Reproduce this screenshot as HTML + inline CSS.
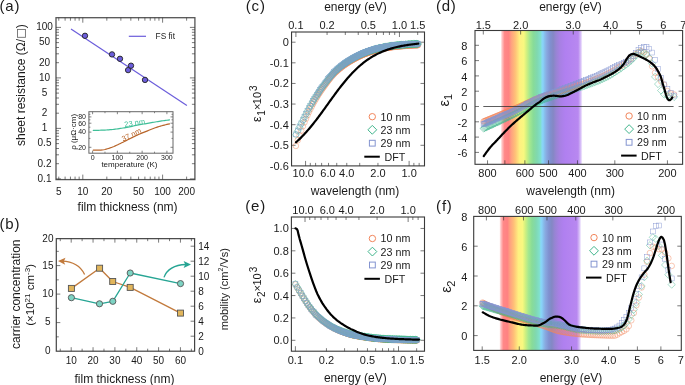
<!DOCTYPE html>
<html><head><meta charset="utf-8"><style>
html,body{margin:0;padding:0;background:#fff;overflow:hidden;}
svg{display:block;font-family:"Liberation Sans", sans-serif;will-change:transform;}
</style></head><body>
<svg xmlns="http://www.w3.org/2000/svg" width="685" height="385" viewBox="0 0 685 385">
<rect width="685" height="385" fill="#fff"/>
<defs><circle id="mc" r="2.8" fill="none" stroke="#f2865c" stroke-width="0.45"/><path id="md" d="M0,-3.6L3.6,0L0,3.6L-3.6,0Z" fill="none" stroke="#40b58c" stroke-width="0.45"/><rect id="ms" x="-2.45" y="-2.45" width="4.9" height="4.9" fill="none" stroke="#7ca3c8" stroke-width="0.45"/><rect id="mp" x="-2.45" y="-2.45" width="4.9" height="4.9" fill="none" stroke="#8494d0" stroke-width="0.45"/></defs>
<rect x="56" y="17.7" width="138.9" height="161.9" fill="none" stroke="#555" stroke-width="1.3"/>
<line x1="82.8" y1="179.6" x2="82.8" y2="174.6" stroke="#333" stroke-width="0.65" />
<line x1="82.8" y1="17.7" x2="82.8" y2="22.7" stroke="#333" stroke-width="0.65" />
<line x1="162.6" y1="179.6" x2="162.6" y2="174.6" stroke="#333" stroke-width="0.65" />
<line x1="162.6" y1="17.7" x2="162.6" y2="22.7" stroke="#333" stroke-width="0.65" />
<line x1="58.78" y1="179.6" x2="58.78" y2="176.6" stroke="#333" stroke-width="0.65" />
<line x1="58.78" y1="17.7" x2="58.78" y2="20.7" stroke="#333" stroke-width="0.65" />
<line x1="65.1" y1="179.6" x2="65.1" y2="176.6" stroke="#333" stroke-width="0.65" />
<line x1="65.1" y1="17.7" x2="65.1" y2="20.7" stroke="#333" stroke-width="0.65" />
<line x1="70.44" y1="179.6" x2="70.44" y2="176.6" stroke="#333" stroke-width="0.65" />
<line x1="70.44" y1="17.7" x2="70.44" y2="20.7" stroke="#333" stroke-width="0.65" />
<line x1="75.07" y1="179.6" x2="75.07" y2="176.6" stroke="#333" stroke-width="0.65" />
<line x1="75.07" y1="17.7" x2="75.07" y2="20.7" stroke="#333" stroke-width="0.65" />
<line x1="79.15" y1="179.6" x2="79.15" y2="176.6" stroke="#333" stroke-width="0.65" />
<line x1="79.15" y1="17.7" x2="79.15" y2="20.7" stroke="#333" stroke-width="0.65" />
<line x1="106.82" y1="179.6" x2="106.82" y2="176.6" stroke="#333" stroke-width="0.65" />
<line x1="106.82" y1="17.7" x2="106.82" y2="20.7" stroke="#333" stroke-width="0.65" />
<line x1="120.87" y1="179.6" x2="120.87" y2="176.6" stroke="#333" stroke-width="0.65" />
<line x1="120.87" y1="17.7" x2="120.87" y2="20.7" stroke="#333" stroke-width="0.65" />
<line x1="130.84" y1="179.6" x2="130.84" y2="176.6" stroke="#333" stroke-width="0.65" />
<line x1="130.84" y1="17.7" x2="130.84" y2="20.7" stroke="#333" stroke-width="0.65" />
<line x1="138.58" y1="179.6" x2="138.58" y2="176.6" stroke="#333" stroke-width="0.65" />
<line x1="138.58" y1="17.7" x2="138.58" y2="20.7" stroke="#333" stroke-width="0.65" />
<line x1="144.9" y1="179.6" x2="144.9" y2="176.6" stroke="#333" stroke-width="0.65" />
<line x1="144.9" y1="17.7" x2="144.9" y2="20.7" stroke="#333" stroke-width="0.65" />
<line x1="150.24" y1="179.6" x2="150.24" y2="176.6" stroke="#333" stroke-width="0.65" />
<line x1="150.24" y1="17.7" x2="150.24" y2="20.7" stroke="#333" stroke-width="0.65" />
<line x1="154.87" y1="179.6" x2="154.87" y2="176.6" stroke="#333" stroke-width="0.65" />
<line x1="154.87" y1="17.7" x2="154.87" y2="20.7" stroke="#333" stroke-width="0.65" />
<line x1="158.95" y1="179.6" x2="158.95" y2="176.6" stroke="#333" stroke-width="0.65" />
<line x1="158.95" y1="17.7" x2="158.95" y2="20.7" stroke="#333" stroke-width="0.65" />
<line x1="186.62" y1="179.6" x2="186.62" y2="176.6" stroke="#333" stroke-width="0.65" />
<line x1="186.62" y1="17.7" x2="186.62" y2="20.7" stroke="#333" stroke-width="0.65" />
<line x1="56" y1="178.9" x2="61" y2="178.9" stroke="#333" stroke-width="0.65" />
<line x1="194.9" y1="178.9" x2="189.9" y2="178.9" stroke="#333" stroke-width="0.65" />
<line x1="56" y1="128.4" x2="61" y2="128.4" stroke="#333" stroke-width="0.65" />
<line x1="194.9" y1="128.4" x2="189.9" y2="128.4" stroke="#333" stroke-width="0.65" />
<line x1="56" y1="77.9" x2="61" y2="77.9" stroke="#333" stroke-width="0.65" />
<line x1="194.9" y1="77.9" x2="189.9" y2="77.9" stroke="#333" stroke-width="0.65" />
<line x1="56" y1="27.4" x2="61" y2="27.4" stroke="#333" stroke-width="0.65" />
<line x1="194.9" y1="27.4" x2="189.9" y2="27.4" stroke="#333" stroke-width="0.65" />
<line x1="56" y1="163.7" x2="59" y2="163.7" stroke="#333" stroke-width="0.65" />
<line x1="194.9" y1="163.7" x2="191.9" y2="163.7" stroke="#333" stroke-width="0.65" />
<line x1="56" y1="154.81" x2="59" y2="154.81" stroke="#333" stroke-width="0.65" />
<line x1="194.9" y1="154.81" x2="191.9" y2="154.81" stroke="#333" stroke-width="0.65" />
<line x1="56" y1="148.5" x2="59" y2="148.5" stroke="#333" stroke-width="0.65" />
<line x1="194.9" y1="148.5" x2="191.9" y2="148.5" stroke="#333" stroke-width="0.65" />
<line x1="56" y1="143.6" x2="59" y2="143.6" stroke="#333" stroke-width="0.65" />
<line x1="194.9" y1="143.6" x2="191.9" y2="143.6" stroke="#333" stroke-width="0.65" />
<line x1="56" y1="139.6" x2="59" y2="139.6" stroke="#333" stroke-width="0.65" />
<line x1="194.9" y1="139.6" x2="191.9" y2="139.6" stroke="#333" stroke-width="0.65" />
<line x1="56" y1="136.22" x2="59" y2="136.22" stroke="#333" stroke-width="0.65" />
<line x1="194.9" y1="136.22" x2="191.9" y2="136.22" stroke="#333" stroke-width="0.65" />
<line x1="56" y1="133.29" x2="59" y2="133.29" stroke="#333" stroke-width="0.65" />
<line x1="194.9" y1="133.29" x2="191.9" y2="133.29" stroke="#333" stroke-width="0.65" />
<line x1="56" y1="130.71" x2="59" y2="130.71" stroke="#333" stroke-width="0.65" />
<line x1="194.9" y1="130.71" x2="191.9" y2="130.71" stroke="#333" stroke-width="0.65" />
<line x1="56" y1="113.2" x2="59" y2="113.2" stroke="#333" stroke-width="0.65" />
<line x1="194.9" y1="113.2" x2="191.9" y2="113.2" stroke="#333" stroke-width="0.65" />
<line x1="56" y1="104.31" x2="59" y2="104.31" stroke="#333" stroke-width="0.65" />
<line x1="194.9" y1="104.31" x2="191.9" y2="104.31" stroke="#333" stroke-width="0.65" />
<line x1="56" y1="98" x2="59" y2="98" stroke="#333" stroke-width="0.65" />
<line x1="194.9" y1="98" x2="191.9" y2="98" stroke="#333" stroke-width="0.65" />
<line x1="56" y1="93.1" x2="59" y2="93.1" stroke="#333" stroke-width="0.65" />
<line x1="194.9" y1="93.1" x2="191.9" y2="93.1" stroke="#333" stroke-width="0.65" />
<line x1="56" y1="89.1" x2="59" y2="89.1" stroke="#333" stroke-width="0.65" />
<line x1="194.9" y1="89.1" x2="191.9" y2="89.1" stroke="#333" stroke-width="0.65" />
<line x1="56" y1="85.72" x2="59" y2="85.72" stroke="#333" stroke-width="0.65" />
<line x1="194.9" y1="85.72" x2="191.9" y2="85.72" stroke="#333" stroke-width="0.65" />
<line x1="56" y1="82.79" x2="59" y2="82.79" stroke="#333" stroke-width="0.65" />
<line x1="194.9" y1="82.79" x2="191.9" y2="82.79" stroke="#333" stroke-width="0.65" />
<line x1="56" y1="80.21" x2="59" y2="80.21" stroke="#333" stroke-width="0.65" />
<line x1="194.9" y1="80.21" x2="191.9" y2="80.21" stroke="#333" stroke-width="0.65" />
<line x1="56" y1="62.7" x2="59" y2="62.7" stroke="#333" stroke-width="0.65" />
<line x1="194.9" y1="62.7" x2="191.9" y2="62.7" stroke="#333" stroke-width="0.65" />
<line x1="56" y1="53.81" x2="59" y2="53.81" stroke="#333" stroke-width="0.65" />
<line x1="194.9" y1="53.81" x2="191.9" y2="53.81" stroke="#333" stroke-width="0.65" />
<line x1="56" y1="47.5" x2="59" y2="47.5" stroke="#333" stroke-width="0.65" />
<line x1="194.9" y1="47.5" x2="191.9" y2="47.5" stroke="#333" stroke-width="0.65" />
<line x1="56" y1="42.6" x2="59" y2="42.6" stroke="#333" stroke-width="0.65" />
<line x1="194.9" y1="42.6" x2="191.9" y2="42.6" stroke="#333" stroke-width="0.65" />
<line x1="56" y1="38.6" x2="59" y2="38.6" stroke="#333" stroke-width="0.65" />
<line x1="194.9" y1="38.6" x2="191.9" y2="38.6" stroke="#333" stroke-width="0.65" />
<line x1="56" y1="35.22" x2="59" y2="35.22" stroke="#333" stroke-width="0.65" />
<line x1="194.9" y1="35.22" x2="191.9" y2="35.22" stroke="#333" stroke-width="0.65" />
<line x1="56" y1="32.29" x2="59" y2="32.29" stroke="#333" stroke-width="0.65" />
<line x1="194.9" y1="32.29" x2="191.9" y2="32.29" stroke="#333" stroke-width="0.65" />
<line x1="56" y1="29.71" x2="59" y2="29.71" stroke="#333" stroke-width="0.65" />
<line x1="194.9" y1="29.71" x2="191.9" y2="29.71" stroke="#333" stroke-width="0.65" />
<text x="44.5" y="30.28" font-size="10" text-anchor="middle" fill="#1a1a1a" >100</text>
<text x="44.5" y="45.48" font-size="10" text-anchor="middle" fill="#1a1a1a" >50</text>
<text x="44.5" y="65.58" font-size="10" text-anchor="middle" fill="#1a1a1a" >20</text>
<text x="44.5" y="80.78" font-size="10" text-anchor="middle" fill="#1a1a1a" >10</text>
<text x="44.5" y="95.98" font-size="10" text-anchor="middle" fill="#1a1a1a" >5</text>
<text x="44.5" y="116.08" font-size="10" text-anchor="middle" fill="#1a1a1a" >2</text>
<text x="44.5" y="131.28" font-size="10" text-anchor="middle" fill="#1a1a1a" >1</text>
<text x="44.5" y="146.48" font-size="10" text-anchor="middle" fill="#1a1a1a" >0.5</text>
<text x="44.5" y="166.58" font-size="10" text-anchor="middle" fill="#1a1a1a" >0.2</text>
<text x="44.5" y="181.78" font-size="10" text-anchor="middle" fill="#1a1a1a" >0.1</text>
<text x="58.78" y="195.08" font-size="10" text-anchor="middle" fill="#1a1a1a" >5</text>
<text x="82.8" y="195.08" font-size="10" text-anchor="middle" fill="#1a1a1a" >10</text>
<text x="106.82" y="195.08" font-size="10" text-anchor="middle" fill="#1a1a1a" >20</text>
<text x="138.58" y="195.08" font-size="10" text-anchor="middle" fill="#1a1a1a" >50</text>
<text x="162.6" y="195.08" font-size="10" text-anchor="middle" fill="#1a1a1a" >100</text>
<text x="186.62" y="195.08" font-size="10" text-anchor="middle" fill="#1a1a1a" >200</text>
<text x="127.6" y="210.9" font-size="12" text-anchor="middle" fill="#1a1a1a" >film thickness (nm)</text>
<text x="24.8" y="146" font-size="12" text-anchor="start" fill="#1a1a1a" transform="rotate(-90 24.8 146)" >sheet resistance (Ω/</text>
<text x="24.8" y="28.15" font-size="12" text-anchor="start" fill="#1a1a1a" transform="rotate(-90 24.8 28.15)" >)</text>
<rect x="17.5" y="29.4" width="7.9" height="7.9" fill="none" stroke="#666" stroke-width="0.85"/>
<line x1="71" y1="28.9" x2="186.9" y2="105.4" stroke="#6b5ddb" stroke-width="1.2" />
<line x1="128.8" y1="36.3" x2="146" y2="36.3" stroke="#6b5ddb" stroke-width="1.2" />
<text x="155.6" y="39.2" font-size="8.3" text-anchor="start" fill="#1a1a1a" >FS fit</text>
<circle cx="85" cy="35.8" r="2.7" fill="#6b5ddb" stroke="#222" stroke-width="0.9"/>
<circle cx="112" cy="54.4" r="2.7" fill="#6b5ddb" stroke="#222" stroke-width="0.9"/>
<circle cx="120" cy="58.8" r="2.7" fill="#6b5ddb" stroke="#222" stroke-width="0.9"/>
<circle cx="128.1" cy="70.1" r="2.7" fill="#6b5ddb" stroke="#222" stroke-width="0.9"/>
<circle cx="131" cy="65.7" r="2.7" fill="#6b5ddb" stroke="#222" stroke-width="0.9"/>
<circle cx="145" cy="79.9" r="2.7" fill="#6b5ddb" stroke="#222" stroke-width="0.9"/>
<rect x="88.9" y="111.7" width="84.1" height="41.5" fill="#fff" stroke="#666" stroke-width="1"/>
<line x1="92.6" y1="153.2" x2="92.6" y2="150.7" stroke="#666" stroke-width="0.8" />
<line x1="92.6" y1="111.7" x2="92.6" y2="114.2" stroke="#666" stroke-width="0.8" />
<line x1="117.37" y1="153.2" x2="117.37" y2="150.7" stroke="#666" stroke-width="0.8" />
<line x1="117.37" y1="111.7" x2="117.37" y2="114.2" stroke="#666" stroke-width="0.8" />
<line x1="142.13" y1="153.2" x2="142.13" y2="150.7" stroke="#666" stroke-width="0.8" />
<line x1="142.13" y1="111.7" x2="142.13" y2="114.2" stroke="#666" stroke-width="0.8" />
<line x1="166.9" y1="153.2" x2="166.9" y2="150.7" stroke="#666" stroke-width="0.8" />
<line x1="166.9" y1="111.7" x2="166.9" y2="114.2" stroke="#666" stroke-width="0.8" />
<line x1="104.98" y1="153.2" x2="104.98" y2="151.7" stroke="#666" stroke-width="0.8" />
<line x1="104.98" y1="111.7" x2="104.98" y2="113.2" stroke="#666" stroke-width="0.8" />
<line x1="129.75" y1="153.2" x2="129.75" y2="151.7" stroke="#666" stroke-width="0.8" />
<line x1="129.75" y1="111.7" x2="129.75" y2="113.2" stroke="#666" stroke-width="0.8" />
<line x1="154.52" y1="153.2" x2="154.52" y2="151.7" stroke="#666" stroke-width="0.8" />
<line x1="154.52" y1="111.7" x2="154.52" y2="113.2" stroke="#666" stroke-width="0.8" />
<line x1="88.9" y1="147.3" x2="91.4" y2="147.3" stroke="#666" stroke-width="0.8" />
<line x1="173" y1="147.3" x2="170.5" y2="147.3" stroke="#666" stroke-width="0.8" />
<line x1="88.9" y1="138.41" x2="90.4" y2="138.41" stroke="#666" stroke-width="0.8" />
<line x1="173" y1="138.41" x2="171.5" y2="138.41" stroke="#666" stroke-width="0.8" />
<line x1="88.9" y1="132.1" x2="91.4" y2="132.1" stroke="#666" stroke-width="0.8" />
<line x1="173" y1="132.1" x2="170.5" y2="132.1" stroke="#666" stroke-width="0.8" />
<line x1="88.9" y1="127.2" x2="90.4" y2="127.2" stroke="#666" stroke-width="0.8" />
<line x1="173" y1="127.2" x2="171.5" y2="127.2" stroke="#666" stroke-width="0.8" />
<line x1="88.9" y1="123.21" x2="91.4" y2="123.21" stroke="#666" stroke-width="0.8" />
<line x1="173" y1="123.21" x2="170.5" y2="123.21" stroke="#666" stroke-width="0.8" />
<line x1="88.9" y1="119.82" x2="90.4" y2="119.82" stroke="#666" stroke-width="0.8" />
<line x1="173" y1="119.82" x2="171.5" y2="119.82" stroke="#666" stroke-width="0.8" />
<line x1="88.9" y1="116.9" x2="91.4" y2="116.9" stroke="#666" stroke-width="0.8" />
<line x1="173" y1="116.9" x2="170.5" y2="116.9" stroke="#666" stroke-width="0.8" />
<line x1="88.9" y1="114.31" x2="90.4" y2="114.31" stroke="#666" stroke-width="0.8" />
<line x1="173" y1="114.31" x2="171.5" y2="114.31" stroke="#666" stroke-width="0.8" />
<text x="86" y="149.61" font-size="7" text-anchor="end" fill="#1a1a1a" >20</text>
<text x="86" y="134.4" font-size="7" text-anchor="end" fill="#1a1a1a" >40</text>
<text x="86" y="125.51" font-size="7" text-anchor="end" fill="#1a1a1a" >60</text>
<text x="86" y="119.2" font-size="7" text-anchor="end" fill="#1a1a1a" >80</text>
<text x="92.6" y="160.16" font-size="7" text-anchor="middle" fill="#1a1a1a" >0</text>
<text x="117.37" y="160.16" font-size="7" text-anchor="middle" fill="#1a1a1a" >100</text>
<text x="142.13" y="160.16" font-size="7" text-anchor="middle" fill="#1a1a1a" >200</text>
<text x="166.9" y="160.16" font-size="7" text-anchor="middle" fill="#1a1a1a" >300</text>
<text x="129.4" y="167" font-size="8" text-anchor="middle" fill="#1a1a1a" >temperature (K)</text>
<text x="76" y="131.85" font-size="8" text-anchor="middle" fill="#1a1a1a" transform="rotate(-90 76 131.85)" >ρ (μΩ·cm)</text>
<polyline points="93.3,130.4 94.59,130.39 95.88,130.36 97.17,130.33 98.47,130.3 99.76,130.25 101.05,130.21 102.34,130.16 103.63,130.11 104.92,130.05 106.22,129.98 107.51,129.9 108.8,129.81 110.09,129.71 111.38,129.61 112.67,129.49 113.96,129.36 115.26,129.2 116.55,129.03 117.84,128.84 119.13,128.64 120.42,128.44 121.71,128.23 123.01,128.02 124.3,127.8 125.59,127.57 126.88,127.33 128.17,127.08 129.46,126.83 130.75,126.57 132.05,126.29 133.34,125.99 134.63,125.69 135.92,125.4 137.21,125.12 138.5,124.86 139.79,124.62 141.09,124.41 142.38,124.21 143.67,124.01 144.96,123.82 146.25,123.62 147.54,123.41 148.84,123.18 150.13,122.95 151.42,122.7 152.71,122.46 154,122.22 155.29,121.99 156.58,121.77 157.88,121.56 159.17,121.36 160.46,121.16 161.75,120.96 163.04,120.77 164.33,120.59 165.63,120.41 166.92,120.23 168.21,120.06 169.5,119.9" fill="none" stroke="#3fbf98" stroke-width="1.2" stroke-linejoin="round" stroke-linecap="round" />
<polyline points="93.3,150.2 94.59,150.2 95.88,150.2 97.17,150.2 98.47,150.2 99.76,150.15 101.05,150.07 102.34,149.97 103.63,149.76 104.92,149.46 106.22,149.1 107.51,148.74 108.8,148.36 110.09,147.93 111.38,147.46 112.67,146.97 113.96,146.45 115.26,145.88 116.55,145.29 117.84,144.68 119.13,144.05 120.42,143.42 121.71,142.8 123.01,142.17 124.3,141.52 125.59,140.87 126.88,140.21 128.17,139.56 129.46,138.91 130.75,138.28 132.05,137.64 133.34,137 134.63,136.36 135.92,135.73 137.21,135.12 138.5,134.53 139.79,133.97 141.09,133.42 142.38,132.88 143.67,132.36 144.96,131.85 146.25,131.33 147.54,130.82 148.84,130.3 150.13,129.77 151.42,129.25 152.71,128.73 154,128.24 155.29,127.77 156.58,127.34 157.88,126.93 159.17,126.54 160.46,126.15 161.75,125.78 163.04,125.42 164.33,125.08 165.63,124.76 166.92,124.45 168.21,124.16 169.5,123.9" fill="none" stroke="#b8652a" stroke-width="1.2" stroke-linejoin="round" stroke-linecap="round" />
<text x="134.7" y="125.4" font-size="7.5" text-anchor="middle" fill="#3fbf98" transform="rotate(-9.5 134.7 122.8)" >23 nm</text>
<text x="131.5" y="137.2" font-size="7.5" text-anchor="middle" fill="#b8652a" transform="rotate(-26 131.5 134.6)" >37 nm</text>
<rect x="56.3" y="238.65" width="138.3" height="112.55" fill="none" stroke="#444" stroke-width="1.2"/>
<line x1="71.2" y1="351.2" x2="71.2" y2="347.2" stroke="#333" stroke-width="0.65" />
<line x1="71.2" y1="238.65" x2="71.2" y2="242.65" stroke="#333" stroke-width="0.65" />
<line x1="93.05" y1="351.2" x2="93.05" y2="347.2" stroke="#333" stroke-width="0.65" />
<line x1="93.05" y1="238.65" x2="93.05" y2="242.65" stroke="#333" stroke-width="0.65" />
<line x1="114.9" y1="351.2" x2="114.9" y2="347.2" stroke="#333" stroke-width="0.65" />
<line x1="114.9" y1="238.65" x2="114.9" y2="242.65" stroke="#333" stroke-width="0.65" />
<line x1="136.75" y1="351.2" x2="136.75" y2="347.2" stroke="#333" stroke-width="0.65" />
<line x1="136.75" y1="238.65" x2="136.75" y2="242.65" stroke="#333" stroke-width="0.65" />
<line x1="158.6" y1="351.2" x2="158.6" y2="347.2" stroke="#333" stroke-width="0.65" />
<line x1="158.6" y1="238.65" x2="158.6" y2="242.65" stroke="#333" stroke-width="0.65" />
<line x1="180.45" y1="351.2" x2="180.45" y2="347.2" stroke="#333" stroke-width="0.65" />
<line x1="180.45" y1="238.65" x2="180.45" y2="242.65" stroke="#333" stroke-width="0.65" />
<line x1="60.28" y1="351.2" x2="60.28" y2="348.7" stroke="#333" stroke-width="0.65" />
<line x1="60.28" y1="238.65" x2="60.28" y2="241.15" stroke="#333" stroke-width="0.65" />
<line x1="82.12" y1="351.2" x2="82.12" y2="348.7" stroke="#333" stroke-width="0.65" />
<line x1="82.12" y1="238.65" x2="82.12" y2="241.15" stroke="#333" stroke-width="0.65" />
<line x1="103.97" y1="351.2" x2="103.97" y2="348.7" stroke="#333" stroke-width="0.65" />
<line x1="103.97" y1="238.65" x2="103.97" y2="241.15" stroke="#333" stroke-width="0.65" />
<line x1="125.83" y1="351.2" x2="125.83" y2="348.7" stroke="#333" stroke-width="0.65" />
<line x1="125.83" y1="238.65" x2="125.83" y2="241.15" stroke="#333" stroke-width="0.65" />
<line x1="147.68" y1="351.2" x2="147.68" y2="348.7" stroke="#333" stroke-width="0.65" />
<line x1="147.68" y1="238.65" x2="147.68" y2="241.15" stroke="#333" stroke-width="0.65" />
<line x1="169.53" y1="351.2" x2="169.53" y2="348.7" stroke="#333" stroke-width="0.65" />
<line x1="169.53" y1="238.65" x2="169.53" y2="241.15" stroke="#333" stroke-width="0.65" />
<line x1="191.38" y1="351.2" x2="191.38" y2="348.7" stroke="#333" stroke-width="0.65" />
<line x1="191.38" y1="238.65" x2="191.38" y2="241.15" stroke="#333" stroke-width="0.65" />
<line x1="56.3" y1="322.6" x2="60.3" y2="322.6" stroke="#333" stroke-width="0.65" />
<line x1="56.3" y1="294.1" x2="60.3" y2="294.1" stroke="#333" stroke-width="0.65" />
<line x1="56.3" y1="265.6" x2="60.3" y2="265.6" stroke="#333" stroke-width="0.65" />
<line x1="56.3" y1="336.85" x2="58.8" y2="336.85" stroke="#333" stroke-width="0.65" />
<line x1="56.3" y1="308.35" x2="58.8" y2="308.35" stroke="#333" stroke-width="0.65" />
<line x1="56.3" y1="279.85" x2="58.8" y2="279.85" stroke="#333" stroke-width="0.65" />
<line x1="56.3" y1="251.35" x2="58.8" y2="251.35" stroke="#333" stroke-width="0.65" />
<line x1="194.6" y1="336.2" x2="190.6" y2="336.2" stroke="#333" stroke-width="0.65" />
<line x1="194.6" y1="321.2" x2="190.6" y2="321.2" stroke="#333" stroke-width="0.65" />
<line x1="194.6" y1="306.2" x2="190.6" y2="306.2" stroke="#333" stroke-width="0.65" />
<line x1="194.6" y1="291.2" x2="190.6" y2="291.2" stroke="#333" stroke-width="0.65" />
<line x1="194.6" y1="276.2" x2="190.6" y2="276.2" stroke="#333" stroke-width="0.65" />
<line x1="194.6" y1="261.2" x2="190.6" y2="261.2" stroke="#333" stroke-width="0.65" />
<line x1="194.6" y1="246.2" x2="190.6" y2="246.2" stroke="#333" stroke-width="0.65" />
<text x="47.9" y="354.28" font-size="10" text-anchor="middle" fill="#1a1a1a" >0</text>
<text x="47.9" y="325.48" font-size="10" text-anchor="middle" fill="#1a1a1a" >5</text>
<text x="47.9" y="296.93" font-size="10" text-anchor="middle" fill="#1a1a1a" >10</text>
<text x="47.9" y="268.68" font-size="10" text-anchor="middle" fill="#1a1a1a" >15</text>
<text x="47.9" y="241.63" font-size="10" text-anchor="middle" fill="#1a1a1a" >20</text>
<text x="198.3" y="354.68" font-size="10" text-anchor="start" fill="#1a1a1a" >0</text>
<text x="198.3" y="339.68" font-size="10" text-anchor="start" fill="#1a1a1a" >2</text>
<text x="198.3" y="324.68" font-size="10" text-anchor="start" fill="#1a1a1a" >4</text>
<text x="198.3" y="309.68" font-size="10" text-anchor="start" fill="#1a1a1a" >6</text>
<text x="198.3" y="294.68" font-size="10" text-anchor="start" fill="#1a1a1a" >8</text>
<text x="198.3" y="279.68" font-size="10" text-anchor="start" fill="#1a1a1a" >10</text>
<text x="198.3" y="264.68" font-size="10" text-anchor="start" fill="#1a1a1a" >12</text>
<text x="198.3" y="249.68" font-size="10" text-anchor="start" fill="#1a1a1a" >14</text>
<text x="71.2" y="363.88" font-size="10" text-anchor="middle" fill="#1a1a1a" >10</text>
<text x="93.05" y="363.88" font-size="10" text-anchor="middle" fill="#1a1a1a" >20</text>
<text x="114.9" y="363.88" font-size="10" text-anchor="middle" fill="#1a1a1a" >30</text>
<text x="136.75" y="363.88" font-size="10" text-anchor="middle" fill="#1a1a1a" >40</text>
<text x="158.6" y="363.88" font-size="10" text-anchor="middle" fill="#1a1a1a" >50</text>
<text x="180.45" y="363.88" font-size="10" text-anchor="middle" fill="#1a1a1a" >60</text>
<text x="124.5" y="382.6" font-size="12" text-anchor="middle" fill="#1a1a1a" >film thickness (nm)</text>
<text x="20.5" y="294.2" font-size="12" text-anchor="middle" fill="#1a1a1a" transform="rotate(-90 20.5 294.2)" >carrier concentration</text>
<text x="34.4" y="294.85" font-size="11.5" text-anchor="middle" fill="#1a1a1a" transform="rotate(-90 34.4 294.85)" >(×10<tspan font-size="8" dy="-4.5">21</tspan><tspan dy="4.5"> cm</tspan><tspan font-size="8" dy="-4.5">-3</tspan><tspan dy="4.5">)</tspan></text>
<text x="227.6" y="289.2" font-size="11" text-anchor="middle" fill="#1a1a1a" transform="rotate(-90 227.6 289.2)" >mobility (cm<tspan font-size="7" dy="-4.2">2</tspan><tspan dy="4.2">/Vs)</tspan></text>
<polyline points="71.4,288.4 99.6,268.2 112.7,281.5 130.2,287.4 180.5,313.1" fill="none" stroke="#c27a3c" stroke-width="1.3" stroke-linejoin="round" stroke-linecap="round" />
<polyline points="71.4,297.7 99.5,303.8 112.8,301.3 130.2,273 180.5,283.6" fill="none" stroke="#27a594" stroke-width="1.3" stroke-linejoin="round" stroke-linecap="round" />
<rect x="68.4" y="285.4" width="6" height="6" fill="#e1b55b" stroke="#555" stroke-width="0.9"/>
<rect x="96.6" y="265.2" width="6" height="6" fill="#e1b55b" stroke="#555" stroke-width="0.9"/>
<rect x="109.7" y="278.5" width="6" height="6" fill="#e1b55b" stroke="#555" stroke-width="0.9"/>
<rect x="127.2" y="284.4" width="6" height="6" fill="#e1b55b" stroke="#555" stroke-width="0.9"/>
<rect x="177.5" y="310.1" width="6" height="6" fill="#e1b55b" stroke="#555" stroke-width="0.9"/>
<circle cx="71.4" cy="297.7" r="3.1" fill="#7dd3c3" stroke="#555" stroke-width="0.9"/>
<circle cx="99.5" cy="303.8" r="3.1" fill="#7dd3c3" stroke="#555" stroke-width="0.9"/>
<circle cx="112.8" cy="301.3" r="3.1" fill="#7dd3c3" stroke="#555" stroke-width="0.9"/>
<circle cx="130.2" cy="273" r="3.1" fill="#7dd3c3" stroke="#555" stroke-width="0.9"/>
<circle cx="180.5" cy="283.6" r="3.1" fill="#7dd3c3" stroke="#555" stroke-width="0.9"/>
<path d="M84.6,274.5 C80,265 72,261.5 62,261.2" fill="none" stroke="#c27a3c" stroke-width="1.3"/>
<path d="M58,261.1 L65.5,257.8 L63.8,261.4 L65.2,264.8 Z" fill="#c27a3c"/>
<path d="M164,277.4 C167,269 174,265 186,264.5" fill="none" stroke="#27a594" stroke-width="1.3"/>
<path d="M191,264.4 L183.6,261.1 L185.2,264.6 L183.6,268 Z" fill="#27a594"/>
<rect x="291.55" y="32" width="132.95" height="133.9" fill="none" stroke="#3a3a3a" stroke-width="1.1"/>
<line x1="295.9" y1="32" x2="295.9" y2="37" stroke="#333" stroke-width="0.65" />
<line x1="399.45" y1="32" x2="399.45" y2="37" stroke="#333" stroke-width="0.65" />
<line x1="327.07" y1="32" x2="327.07" y2="35" stroke="#333" stroke-width="0.65" />
<line x1="345.31" y1="32" x2="345.31" y2="35" stroke="#333" stroke-width="0.65" />
<line x1="358.24" y1="32" x2="358.24" y2="35" stroke="#333" stroke-width="0.65" />
<line x1="368.28" y1="32" x2="368.28" y2="35" stroke="#333" stroke-width="0.65" />
<line x1="376.48" y1="32" x2="376.48" y2="35" stroke="#333" stroke-width="0.65" />
<line x1="383.41" y1="32" x2="383.41" y2="35" stroke="#333" stroke-width="0.65" />
<line x1="389.41" y1="32" x2="389.41" y2="35" stroke="#333" stroke-width="0.65" />
<line x1="394.71" y1="32" x2="394.71" y2="35" stroke="#333" stroke-width="0.65" />
<line x1="417.68" y1="32" x2="417.68" y2="35" stroke="#333" stroke-width="0.65" />
<line x1="305.57" y1="165.9" x2="305.57" y2="160.9" stroke="#333" stroke-width="0.65" />
<line x1="409.12" y1="165.9" x2="409.12" y2="160.9" stroke="#333" stroke-width="0.65" />
<line x1="310.31" y1="165.9" x2="310.31" y2="162.9" stroke="#333" stroke-width="0.65" />
<line x1="315.6" y1="165.9" x2="315.6" y2="162.9" stroke="#333" stroke-width="0.65" />
<line x1="321.61" y1="165.9" x2="321.61" y2="162.9" stroke="#333" stroke-width="0.65" />
<line x1="328.54" y1="165.9" x2="328.54" y2="162.9" stroke="#333" stroke-width="0.65" />
<line x1="336.74" y1="165.9" x2="336.74" y2="162.9" stroke="#333" stroke-width="0.65" />
<line x1="346.77" y1="165.9" x2="346.77" y2="162.9" stroke="#333" stroke-width="0.65" />
<line x1="359.71" y1="165.9" x2="359.71" y2="162.9" stroke="#333" stroke-width="0.65" />
<line x1="377.95" y1="165.9" x2="377.95" y2="162.9" stroke="#333" stroke-width="0.65" />
<line x1="413.86" y1="165.9" x2="413.86" y2="162.9" stroke="#333" stroke-width="0.65" />
<line x1="419.15" y1="165.9" x2="419.15" y2="162.9" stroke="#333" stroke-width="0.65" />
<line x1="291.55" y1="42.2" x2="295.55" y2="42.2" stroke="#333" stroke-width="0.65" />
<line x1="424.5" y1="42.2" x2="420.5" y2="42.2" stroke="#333" stroke-width="0.65" />
<line x1="291.55" y1="62.82" x2="295.55" y2="62.82" stroke="#333" stroke-width="0.65" />
<line x1="424.5" y1="62.82" x2="420.5" y2="62.82" stroke="#333" stroke-width="0.65" />
<line x1="291.55" y1="83.44" x2="295.55" y2="83.44" stroke="#333" stroke-width="0.65" />
<line x1="424.5" y1="83.44" x2="420.5" y2="83.44" stroke="#333" stroke-width="0.65" />
<line x1="291.55" y1="104.06" x2="295.55" y2="104.06" stroke="#333" stroke-width="0.65" />
<line x1="424.5" y1="104.06" x2="420.5" y2="104.06" stroke="#333" stroke-width="0.65" />
<line x1="291.55" y1="124.68" x2="295.55" y2="124.68" stroke="#333" stroke-width="0.65" />
<line x1="424.5" y1="124.68" x2="420.5" y2="124.68" stroke="#333" stroke-width="0.65" />
<line x1="291.55" y1="145.3" x2="295.55" y2="145.3" stroke="#333" stroke-width="0.65" />
<line x1="424.5" y1="145.3" x2="420.5" y2="145.3" stroke="#333" stroke-width="0.65" />
<text x="288.8" y="46.14" font-size="11" text-anchor="end" fill="#1a1a1a" >0</text>
<text x="288.8" y="66.76" font-size="11" text-anchor="end" fill="#1a1a1a" >-0.1</text>
<text x="288.8" y="87.38" font-size="11" text-anchor="end" fill="#1a1a1a" >-0.2</text>
<text x="288.8" y="108" font-size="11" text-anchor="end" fill="#1a1a1a" >-0.3</text>
<text x="288.8" y="128.62" font-size="11" text-anchor="end" fill="#1a1a1a" >-0.4</text>
<text x="288.8" y="149.24" font-size="11" text-anchor="end" fill="#1a1a1a" >-0.5</text>
<text x="288.8" y="169.86" font-size="11" text-anchor="end" fill="#1a1a1a" >-0.6</text>
<text x="295.9" y="29.04" font-size="11" text-anchor="middle" fill="#1a1a1a" >0.1</text>
<text x="327.07" y="29.04" font-size="11" text-anchor="middle" fill="#1a1a1a" >0.2</text>
<text x="368.28" y="29.04" font-size="11" text-anchor="middle" fill="#1a1a1a" >0.5</text>
<text x="399.45" y="29.04" font-size="11" text-anchor="middle" fill="#1a1a1a" >1.0</text>
<text x="417.68" y="29.04" font-size="11" text-anchor="middle" fill="#1a1a1a" >1.5</text>
<text x="303.27" y="177.34" font-size="11" text-anchor="middle" fill="#1a1a1a" >10.0</text>
<text x="327.94" y="177.34" font-size="11" text-anchor="middle" fill="#1a1a1a" >6.0</text>
<text x="346.77" y="177.34" font-size="11" text-anchor="middle" fill="#1a1a1a" >4.0</text>
<text x="377.95" y="177.34" font-size="11" text-anchor="middle" fill="#1a1a1a" >2.0</text>
<text x="409.12" y="177.34" font-size="11" text-anchor="middle" fill="#1a1a1a" >1.0</text>
<text x="355.5" y="11.2" font-size="12" text-anchor="middle" fill="#1a1a1a" >energy (eV)</text>
<text x="355" y="194.6" font-size="12" text-anchor="middle" fill="#1a1a1a" >wavelength (nm)</text>
<g transform="translate(260.8 121.9) rotate(-90)" fill="#1a1a1a">
<text x="0" y="0" font-size="12.5">ε</text>
<text x="6.2" y="4.1" font-size="10">1</text>
<text x="11.9" y="0" font-size="11">×</text>
<text x="17.7" y="0" font-size="11">10</text>
<text x="31" y="-4" font-size="10">3</text>
</g>
<use href="#mc" x="295.9" y="145.92"/>
<use href="#mc" x="297.75" y="140.27"/>
<use href="#mc" x="299.53" y="135.19"/>
<use href="#mc" x="301.24" y="130.58"/>
<use href="#mc" x="302.88" y="126.35"/>
<use href="#mc" x="304.47" y="122.39"/>
<use href="#mc" x="306.01" y="118.69"/>
<use href="#mc" x="307.49" y="115.26"/>
<use href="#mc" x="308.93" y="112.12"/>
<use href="#mc" x="310.32" y="109.25"/>
<use href="#mc" x="311.67" y="106.58"/>
<use href="#mc" x="312.98" y="104.1"/>
<use href="#mc" x="314.25" y="101.79"/>
<use href="#mc" x="315.49" y="99.64"/>
<use href="#mc" x="316.7" y="97.62"/>
<use href="#mc" x="317.87" y="95.71"/>
<use href="#mc" x="319.02" y="93.91"/>
<use href="#mc" x="320.13" y="92.2"/>
<use href="#mc" x="321.22" y="90.58"/>
<use href="#mc" x="322.28" y="89.04"/>
<use href="#mc" x="323.32" y="87.58"/>
<use href="#mc" x="324.34" y="86.18"/>
<use href="#mc" x="325.33" y="84.82"/>
<use href="#mc" x="326.3" y="83.5"/>
<use href="#mc" x="327.25" y="82.21"/>
<use href="#mc" x="328.18" y="80.97"/>
<use href="#mc" x="329.09" y="79.77"/>
<use href="#mc" x="329.99" y="78.62"/>
<use href="#mc" x="330.86" y="77.53"/>
<use href="#mc" x="331.72" y="76.49"/>
<use href="#mc" x="332.57" y="75.5"/>
<use href="#mc" x="333.4" y="74.57"/>
<use href="#mc" x="334.21" y="73.7"/>
<use href="#mc" x="335.01" y="72.89"/>
<use href="#mc" x="335.79" y="72.14"/>
<use href="#mc" x="336.56" y="71.43"/>
<use href="#mc" x="337.32" y="70.75"/>
<use href="#mc" x="338.07" y="70.09"/>
<use href="#mc" x="338.8" y="69.46"/>
<use href="#mc" x="339.52" y="68.86"/>
<use href="#mc" x="340.23" y="68.27"/>
<use href="#mc" x="340.93" y="67.71"/>
<use href="#mc" x="341.62" y="67.17"/>
<use href="#mc" x="342.3" y="66.65"/>
<use href="#mc" x="342.97" y="66.15"/>
<use href="#mc" x="343.63" y="65.66"/>
<use href="#mc" x="344.27" y="65.2"/>
<use href="#mc" x="344.91" y="64.74"/>
<use href="#mc" x="345.55" y="64.31"/>
<use href="#mc" x="346.17" y="63.88"/>
<use href="#mc" x="346.78" y="63.47"/>
<use href="#mc" x="347.39" y="63.07"/>
<use href="#mc" x="347.98" y="62.69"/>
<use href="#mc" x="348.57" y="62.31"/>
<use href="#mc" x="349.15" y="61.95"/>
<use href="#mc" x="349.73" y="61.6"/>
<use href="#mc" x="350.3" y="61.26"/>
<use href="#mc" x="350.86" y="60.92"/>
<use href="#mc" x="351.41" y="60.6"/>
<use href="#mc" x="351.95" y="60.28"/>
<use href="#mc" x="352.49" y="59.98"/>
<use href="#mc" x="353.03" y="59.67"/>
<use href="#mc" x="353.56" y="59.38"/>
<use href="#mc" x="354.08" y="59.09"/>
<use href="#mc" x="354.59" y="58.81"/>
<use href="#mc" x="355.1" y="58.54"/>
<use href="#mc" x="355.6" y="58.27"/>
<use href="#mc" x="356.1" y="58"/>
<use href="#mc" x="356.59" y="57.75"/>
<use href="#mc" x="357.08" y="57.5"/>
<use href="#mc" x="357.56" y="57.25"/>
<use href="#mc" x="358.04" y="57.02"/>
<use href="#mc" x="358.51" y="56.78"/>
<use href="#mc" x="358.98" y="56.55"/>
<use href="#mc" x="359.44" y="56.33"/>
<use href="#mc" x="359.9" y="56.11"/>
<use href="#mc" x="360.35" y="55.9"/>
<use href="#mc" x="360.8" y="55.7"/>
<use href="#mc" x="361.24" y="55.49"/>
<use href="#mc" x="361.68" y="55.3"/>
<use href="#mc" x="362.12" y="55.1"/>
<use href="#mc" x="362.55" y="54.91"/>
<use href="#mc" x="362.98" y="54.73"/>
<use href="#mc" x="363.4" y="54.55"/>
<use href="#mc" x="363.82" y="54.37"/>
<use href="#mc" x="364.23" y="54.2"/>
<use href="#mc" x="364.65" y="54.04"/>
<use href="#mc" x="365.05" y="53.87"/>
<use href="#mc" x="365.46" y="53.71"/>
<use href="#mc" x="365.86" y="53.56"/>
<use href="#mc" x="366.25" y="53.41"/>
<use href="#mc" x="366.65" y="53.26"/>
<use href="#mc" x="367.04" y="53.12"/>
<use href="#mc" x="367.42" y="52.97"/>
<use href="#mc" x="367.81" y="52.83"/>
<use href="#mc" x="368.19" y="52.7"/>
<use href="#mc" x="368.57" y="52.56"/>
<use href="#mc" x="368.94" y="52.43"/>
<use href="#mc" x="369.31" y="52.3"/>
<use href="#mc" x="369.68" y="52.17"/>
<use href="#mc" x="370.04" y="52.04"/>
<use href="#mc" x="370.4" y="51.92"/>
<use href="#mc" x="370.76" y="51.8"/>
<use href="#mc" x="371.12" y="51.68"/>
<use href="#mc" x="371.48" y="51.56"/>
<use href="#mc" x="371.84" y="51.44"/>
<use href="#mc" x="372.2" y="51.32"/>
<use href="#mc" x="372.55" y="51.21"/>
<use href="#mc" x="372.91" y="51.09"/>
<use href="#mc" x="373.27" y="50.98"/>
<use href="#mc" x="373.63" y="50.87"/>
<use href="#mc" x="373.99" y="50.76"/>
<use href="#mc" x="374.35" y="50.65"/>
<use href="#mc" x="374.7" y="50.55"/>
<use href="#mc" x="375.06" y="50.44"/>
<use href="#mc" x="375.42" y="50.34"/>
<use href="#mc" x="375.78" y="50.24"/>
<use href="#mc" x="376.14" y="50.14"/>
<use href="#mc" x="376.5" y="50.04"/>
<use href="#mc" x="376.85" y="49.95"/>
<use href="#mc" x="377.21" y="49.86"/>
<use href="#mc" x="377.57" y="49.76"/>
<use href="#mc" x="377.93" y="49.68"/>
<use href="#mc" x="378.29" y="49.59"/>
<use href="#mc" x="378.65" y="49.5"/>
<use href="#mc" x="379" y="49.42"/>
<use href="#mc" x="379.36" y="49.34"/>
<use href="#mc" x="379.72" y="49.26"/>
<use href="#mc" x="380.08" y="49.18"/>
<use href="#mc" x="380.44" y="49.11"/>
<use href="#mc" x="380.8" y="49.03"/>
<use href="#mc" x="381.15" y="48.96"/>
<use href="#mc" x="381.51" y="48.89"/>
<use href="#mc" x="381.87" y="48.81"/>
<use href="#mc" x="382.23" y="48.74"/>
<use href="#mc" x="382.59" y="48.67"/>
<use href="#mc" x="382.95" y="48.6"/>
<use href="#mc" x="383.3" y="48.53"/>
<use href="#mc" x="383.66" y="48.46"/>
<use href="#mc" x="384.02" y="48.39"/>
<use href="#mc" x="384.38" y="48.32"/>
<use href="#mc" x="384.74" y="48.25"/>
<use href="#mc" x="385.1" y="48.19"/>
<use href="#mc" x="385.45" y="48.12"/>
<use href="#mc" x="385.81" y="48.06"/>
<use href="#mc" x="386.17" y="47.99"/>
<use href="#mc" x="386.53" y="47.93"/>
<use href="#mc" x="386.89" y="47.86"/>
<use href="#mc" x="387.25" y="47.8"/>
<use href="#mc" x="387.6" y="47.74"/>
<use href="#mc" x="387.96" y="47.68"/>
<use href="#mc" x="388.32" y="47.62"/>
<use href="#mc" x="388.68" y="47.56"/>
<use href="#mc" x="389.04" y="47.51"/>
<use href="#mc" x="389.4" y="47.45"/>
<use href="#mc" x="389.75" y="47.39"/>
<use href="#mc" x="390.11" y="47.34"/>
<use href="#mc" x="390.47" y="47.29"/>
<use href="#mc" x="390.83" y="47.23"/>
<use href="#mc" x="391.19" y="47.18"/>
<use href="#mc" x="391.55" y="47.13"/>
<use href="#mc" x="391.9" y="47.08"/>
<use href="#mc" x="392.26" y="47.03"/>
<use href="#mc" x="392.62" y="46.99"/>
<use href="#mc" x="392.98" y="46.94"/>
<use href="#mc" x="393.34" y="46.89"/>
<use href="#mc" x="393.7" y="46.85"/>
<use href="#mc" x="394.05" y="46.81"/>
<use href="#mc" x="394.41" y="46.77"/>
<use href="#mc" x="394.77" y="46.73"/>
<use href="#mc" x="395.13" y="46.69"/>
<use href="#mc" x="395.49" y="46.65"/>
<use href="#mc" x="395.85" y="46.61"/>
<use href="#mc" x="396.2" y="46.57"/>
<use href="#mc" x="396.56" y="46.54"/>
<use href="#mc" x="396.92" y="46.51"/>
<use href="#mc" x="397.28" y="46.47"/>
<use href="#mc" x="397.64" y="46.44"/>
<use href="#mc" x="398" y="46.41"/>
<use href="#mc" x="398.35" y="46.38"/>
<use href="#mc" x="398.71" y="46.35"/>
<use href="#mc" x="399.07" y="46.31"/>
<use href="#mc" x="399.43" y="46.28"/>
<use href="#mc" x="399.79" y="46.25"/>
<use href="#mc" x="400.15" y="46.22"/>
<use href="#mc" x="400.5" y="46.19"/>
<use href="#mc" x="400.86" y="46.16"/>
<use href="#mc" x="401.22" y="46.13"/>
<use href="#mc" x="401.58" y="46.09"/>
<use href="#mc" x="401.94" y="46.06"/>
<use href="#mc" x="402.3" y="46.03"/>
<use href="#mc" x="402.65" y="46"/>
<use href="#mc" x="403.01" y="45.97"/>
<use href="#mc" x="403.37" y="45.94"/>
<use href="#mc" x="403.73" y="45.91"/>
<use href="#mc" x="404.09" y="45.88"/>
<use href="#mc" x="404.45" y="45.86"/>
<use href="#mc" x="404.8" y="45.83"/>
<use href="#mc" x="405.16" y="45.8"/>
<use href="#mc" x="405.52" y="45.77"/>
<use href="#mc" x="405.88" y="45.74"/>
<use href="#mc" x="406.24" y="45.72"/>
<use href="#mc" x="406.6" y="45.69"/>
<use href="#mc" x="406.95" y="45.66"/>
<use href="#mc" x="407.31" y="45.64"/>
<use href="#mc" x="407.67" y="45.61"/>
<use href="#mc" x="408.03" y="45.59"/>
<use href="#mc" x="408.39" y="45.56"/>
<use href="#mc" x="408.75" y="45.54"/>
<use href="#mc" x="409.1" y="45.51"/>
<use href="#mc" x="409.46" y="45.49"/>
<use href="#mc" x="409.82" y="45.47"/>
<use href="#mc" x="410.18" y="45.45"/>
<use href="#mc" x="410.54" y="45.42"/>
<use href="#mc" x="410.9" y="45.4"/>
<use href="#mc" x="411.26" y="45.38"/>
<use href="#mc" x="411.61" y="45.36"/>
<use href="#mc" x="411.97" y="45.34"/>
<use href="#mc" x="412.33" y="45.33"/>
<use href="#mc" x="412.69" y="45.31"/>
<use href="#mc" x="413.05" y="45.29"/>
<use href="#mc" x="413.41" y="45.27"/>
<use href="#mc" x="413.76" y="45.26"/>
<use href="#mc" x="414.12" y="45.24"/>
<use href="#mc" x="414.48" y="45.23"/>
<use href="#mc" x="414.84" y="45.21"/>
<use href="#mc" x="415.2" y="45.2"/>
<use href="#mc" x="415.56" y="45.19"/>
<use href="#mc" x="415.91" y="45.18"/>
<use href="#mc" x="416.27" y="45.16"/>
<use href="#mc" x="416.63" y="45.15"/>
<use href="#mc" x="416.99" y="45.15"/>
<use href="#mc" x="417.35" y="45.14"/>
<use href="#mc" x="417.71" y="45.13"/>
<use href="#mc" x="418.06" y="45.12"/>
<use href="#md" x="295.9" y="134.68"/>
<use href="#md" x="297.75" y="130.89"/>
<use href="#md" x="299.53" y="127.28"/>
<use href="#md" x="301.24" y="123.83"/>
<use href="#md" x="302.88" y="120.53"/>
<use href="#md" x="304.47" y="117.32"/>
<use href="#md" x="306.01" y="114.23"/>
<use href="#md" x="307.49" y="111.29"/>
<use href="#md" x="308.93" y="108.55"/>
<use href="#md" x="310.32" y="106.02"/>
<use href="#md" x="311.67" y="103.64"/>
<use href="#md" x="312.98" y="101.4"/>
<use href="#md" x="314.25" y="99.29"/>
<use href="#md" x="315.49" y="97.3"/>
<use href="#md" x="316.7" y="95.42"/>
<use href="#md" x="317.87" y="93.64"/>
<use href="#md" x="319.02" y="91.94"/>
<use href="#md" x="320.13" y="90.32"/>
<use href="#md" x="321.22" y="88.78"/>
<use href="#md" x="322.28" y="87.31"/>
<use href="#md" x="323.32" y="85.9"/>
<use href="#md" x="324.34" y="84.56"/>
<use href="#md" x="325.33" y="83.24"/>
<use href="#md" x="326.3" y="81.95"/>
<use href="#md" x="327.25" y="80.7"/>
<use href="#md" x="328.18" y="79.49"/>
<use href="#md" x="329.09" y="78.32"/>
<use href="#md" x="329.99" y="77.2"/>
<use href="#md" x="330.86" y="76.12"/>
<use href="#md" x="331.72" y="75.1"/>
<use href="#md" x="332.57" y="74.13"/>
<use href="#md" x="333.4" y="73.22"/>
<use href="#md" x="334.21" y="72.36"/>
<use href="#md" x="335.01" y="71.56"/>
<use href="#md" x="335.79" y="70.82"/>
<use href="#md" x="336.56" y="70.12"/>
<use href="#md" x="337.32" y="69.45"/>
<use href="#md" x="338.07" y="68.8"/>
<use href="#md" x="338.8" y="68.18"/>
<use href="#md" x="339.52" y="67.58"/>
<use href="#md" x="340.23" y="67"/>
<use href="#md" x="340.93" y="66.45"/>
<use href="#md" x="341.62" y="65.91"/>
<use href="#md" x="342.3" y="65.39"/>
<use href="#md" x="342.97" y="64.9"/>
<use href="#md" x="343.63" y="64.41"/>
<use href="#md" x="344.27" y="63.95"/>
<use href="#md" x="344.91" y="63.5"/>
<use href="#md" x="345.55" y="63.06"/>
<use href="#md" x="346.17" y="62.64"/>
<use href="#md" x="346.78" y="62.24"/>
<use href="#md" x="347.39" y="61.84"/>
<use href="#md" x="347.98" y="61.46"/>
<use href="#md" x="348.57" y="61.09"/>
<use href="#md" x="349.15" y="60.72"/>
<use href="#md" x="349.73" y="60.37"/>
<use href="#md" x="350.3" y="60.03"/>
<use href="#md" x="350.86" y="59.7"/>
<use href="#md" x="351.41" y="59.38"/>
<use href="#md" x="351.95" y="59.06"/>
<use href="#md" x="352.49" y="58.76"/>
<use href="#md" x="353.03" y="58.46"/>
<use href="#md" x="353.56" y="58.16"/>
<use href="#md" x="354.08" y="57.88"/>
<use href="#md" x="354.59" y="57.6"/>
<use href="#md" x="355.1" y="57.32"/>
<use href="#md" x="355.6" y="57.05"/>
<use href="#md" x="356.1" y="56.79"/>
<use href="#md" x="356.59" y="56.54"/>
<use href="#md" x="357.08" y="56.29"/>
<use href="#md" x="357.56" y="56.04"/>
<use href="#md" x="358.04" y="55.81"/>
<use href="#md" x="358.51" y="55.57"/>
<use href="#md" x="358.98" y="55.35"/>
<use href="#md" x="359.44" y="55.12"/>
<use href="#md" x="359.9" y="54.91"/>
<use href="#md" x="360.35" y="54.69"/>
<use href="#md" x="360.8" y="54.49"/>
<use href="#md" x="361.24" y="54.29"/>
<use href="#md" x="361.68" y="54.09"/>
<use href="#md" x="362.12" y="53.9"/>
<use href="#md" x="362.55" y="53.71"/>
<use href="#md" x="362.98" y="53.52"/>
<use href="#md" x="363.4" y="53.34"/>
<use href="#md" x="363.82" y="53.17"/>
<use href="#md" x="364.23" y="53"/>
<use href="#md" x="364.65" y="52.83"/>
<use href="#md" x="365.05" y="52.67"/>
<use href="#md" x="365.46" y="52.51"/>
<use href="#md" x="365.86" y="52.35"/>
<use href="#md" x="366.25" y="52.2"/>
<use href="#md" x="366.65" y="52.06"/>
<use href="#md" x="367.04" y="51.91"/>
<use href="#md" x="367.42" y="51.77"/>
<use href="#md" x="367.81" y="51.63"/>
<use href="#md" x="368.19" y="51.49"/>
<use href="#md" x="368.57" y="51.36"/>
<use href="#md" x="368.94" y="51.23"/>
<use href="#md" x="369.31" y="51.09"/>
<use href="#md" x="369.68" y="50.97"/>
<use href="#md" x="370.04" y="50.84"/>
<use href="#md" x="370.4" y="50.72"/>
<use href="#md" x="370.76" y="50.59"/>
<use href="#md" x="371.12" y="50.47"/>
<use href="#md" x="371.48" y="50.35"/>
<use href="#md" x="371.84" y="50.24"/>
<use href="#md" x="372.2" y="50.12"/>
<use href="#md" x="372.55" y="50"/>
<use href="#md" x="372.91" y="49.89"/>
<use href="#md" x="373.27" y="49.78"/>
<use href="#md" x="373.63" y="49.67"/>
<use href="#md" x="373.99" y="49.56"/>
<use href="#md" x="374.35" y="49.45"/>
<use href="#md" x="374.7" y="49.35"/>
<use href="#md" x="375.06" y="49.24"/>
<use href="#md" x="375.42" y="49.14"/>
<use href="#md" x="375.78" y="49.04"/>
<use href="#md" x="376.14" y="48.94"/>
<use href="#md" x="376.5" y="48.84"/>
<use href="#md" x="376.85" y="48.75"/>
<use href="#md" x="377.21" y="48.65"/>
<use href="#md" x="377.57" y="48.56"/>
<use href="#md" x="377.93" y="48.47"/>
<use href="#md" x="378.29" y="48.39"/>
<use href="#md" x="378.65" y="48.3"/>
<use href="#md" x="379" y="48.22"/>
<use href="#md" x="379.36" y="48.14"/>
<use href="#md" x="379.72" y="48.06"/>
<use href="#md" x="380.08" y="47.98"/>
<use href="#md" x="380.44" y="47.91"/>
<use href="#md" x="380.8" y="47.83"/>
<use href="#md" x="381.15" y="47.76"/>
<use href="#md" x="381.51" y="47.69"/>
<use href="#md" x="381.87" y="47.61"/>
<use href="#md" x="382.23" y="47.54"/>
<use href="#md" x="382.59" y="47.47"/>
<use href="#md" x="382.95" y="47.4"/>
<use href="#md" x="383.3" y="47.33"/>
<use href="#md" x="383.66" y="47.26"/>
<use href="#md" x="384.02" y="47.19"/>
<use href="#md" x="384.38" y="47.12"/>
<use href="#md" x="384.74" y="47.05"/>
<use href="#md" x="385.1" y="46.99"/>
<use href="#md" x="385.45" y="46.92"/>
<use href="#md" x="385.81" y="46.85"/>
<use href="#md" x="386.17" y="46.79"/>
<use href="#md" x="386.53" y="46.73"/>
<use href="#md" x="386.89" y="46.66"/>
<use href="#md" x="387.25" y="46.6"/>
<use href="#md" x="387.6" y="46.54"/>
<use href="#md" x="387.96" y="46.48"/>
<use href="#md" x="388.32" y="46.42"/>
<use href="#md" x="388.68" y="46.36"/>
<use href="#md" x="389.04" y="46.31"/>
<use href="#md" x="389.4" y="46.25"/>
<use href="#md" x="389.75" y="46.19"/>
<use href="#md" x="390.11" y="46.14"/>
<use href="#md" x="390.47" y="46.09"/>
<use href="#md" x="390.83" y="46.03"/>
<use href="#md" x="391.19" y="45.98"/>
<use href="#md" x="391.55" y="45.93"/>
<use href="#md" x="391.9" y="45.88"/>
<use href="#md" x="392.26" y="45.83"/>
<use href="#md" x="392.62" y="45.79"/>
<use href="#md" x="392.98" y="45.74"/>
<use href="#md" x="393.34" y="45.69"/>
<use href="#md" x="393.7" y="45.65"/>
<use href="#md" x="394.05" y="45.61"/>
<use href="#md" x="394.41" y="45.57"/>
<use href="#md" x="394.77" y="45.52"/>
<use href="#md" x="395.13" y="45.49"/>
<use href="#md" x="395.49" y="45.45"/>
<use href="#md" x="395.85" y="45.41"/>
<use href="#md" x="396.2" y="45.37"/>
<use href="#md" x="396.56" y="45.34"/>
<use href="#md" x="396.92" y="45.31"/>
<use href="#md" x="397.28" y="45.27"/>
<use href="#md" x="397.64" y="45.24"/>
<use href="#md" x="398" y="45.21"/>
<use href="#md" x="398.35" y="45.18"/>
<use href="#md" x="398.71" y="45.15"/>
<use href="#md" x="399.07" y="45.11"/>
<use href="#md" x="399.43" y="45.08"/>
<use href="#md" x="399.79" y="45.05"/>
<use href="#md" x="400.15" y="45.02"/>
<use href="#md" x="400.5" y="44.99"/>
<use href="#md" x="400.86" y="44.96"/>
<use href="#md" x="401.22" y="44.93"/>
<use href="#md" x="401.58" y="44.89"/>
<use href="#md" x="401.94" y="44.86"/>
<use href="#md" x="402.3" y="44.83"/>
<use href="#md" x="402.65" y="44.8"/>
<use href="#md" x="403.01" y="44.77"/>
<use href="#md" x="403.37" y="44.74"/>
<use href="#md" x="403.73" y="44.71"/>
<use href="#md" x="404.09" y="44.68"/>
<use href="#md" x="404.45" y="44.66"/>
<use href="#md" x="404.8" y="44.63"/>
<use href="#md" x="405.16" y="44.6"/>
<use href="#md" x="405.52" y="44.57"/>
<use href="#md" x="405.88" y="44.54"/>
<use href="#md" x="406.24" y="44.52"/>
<use href="#md" x="406.6" y="44.49"/>
<use href="#md" x="406.95" y="44.46"/>
<use href="#md" x="407.31" y="44.44"/>
<use href="#md" x="407.67" y="44.41"/>
<use href="#md" x="408.03" y="44.39"/>
<use href="#md" x="408.39" y="44.36"/>
<use href="#md" x="408.75" y="44.34"/>
<use href="#md" x="409.1" y="44.31"/>
<use href="#md" x="409.46" y="44.29"/>
<use href="#md" x="409.82" y="44.27"/>
<use href="#md" x="410.18" y="44.25"/>
<use href="#md" x="410.54" y="44.22"/>
<use href="#md" x="410.9" y="44.2"/>
<use href="#md" x="411.26" y="44.18"/>
<use href="#md" x="411.61" y="44.16"/>
<use href="#md" x="411.97" y="44.14"/>
<use href="#md" x="412.33" y="44.13"/>
<use href="#md" x="412.69" y="44.11"/>
<use href="#md" x="413.05" y="44.09"/>
<use href="#md" x="413.41" y="44.07"/>
<use href="#md" x="413.76" y="44.06"/>
<use href="#md" x="414.12" y="44.04"/>
<use href="#md" x="414.48" y="44.03"/>
<use href="#md" x="414.84" y="44.01"/>
<use href="#md" x="415.2" y="44"/>
<use href="#md" x="415.56" y="43.99"/>
<use href="#md" x="415.91" y="43.98"/>
<use href="#md" x="416.27" y="43.96"/>
<use href="#md" x="416.63" y="43.95"/>
<use href="#md" x="416.99" y="43.95"/>
<use href="#md" x="417.35" y="43.94"/>
<use href="#md" x="417.71" y="43.93"/>
<use href="#md" x="418.06" y="43.92"/>
<use href="#ms" x="295.9" y="134.38"/>
<use href="#ms" x="297.75" y="130.59"/>
<use href="#ms" x="299.53" y="126.98"/>
<use href="#ms" x="301.24" y="123.53"/>
<use href="#ms" x="302.88" y="120.23"/>
<use href="#ms" x="304.47" y="117.02"/>
<use href="#ms" x="306.01" y="113.93"/>
<use href="#ms" x="307.49" y="110.99"/>
<use href="#ms" x="308.93" y="108.25"/>
<use href="#ms" x="310.32" y="105.72"/>
<use href="#ms" x="311.67" y="103.34"/>
<use href="#ms" x="312.98" y="101.1"/>
<use href="#ms" x="314.25" y="98.99"/>
<use href="#ms" x="315.49" y="97"/>
<use href="#ms" x="316.7" y="95.12"/>
<use href="#ms" x="317.87" y="93.34"/>
<use href="#ms" x="319.02" y="91.64"/>
<use href="#ms" x="320.13" y="90.02"/>
<use href="#ms" x="321.22" y="88.48"/>
<use href="#ms" x="322.28" y="87.01"/>
<use href="#ms" x="323.32" y="85.6"/>
<use href="#ms" x="324.34" y="84.26"/>
<use href="#ms" x="325.33" y="82.94"/>
<use href="#ms" x="326.3" y="81.65"/>
<use href="#ms" x="327.25" y="80.4"/>
<use href="#ms" x="328.18" y="79.19"/>
<use href="#ms" x="329.09" y="78.02"/>
<use href="#ms" x="329.99" y="76.9"/>
<use href="#ms" x="330.86" y="75.82"/>
<use href="#ms" x="331.72" y="74.8"/>
<use href="#ms" x="332.57" y="73.83"/>
<use href="#ms" x="333.4" y="72.92"/>
<use href="#ms" x="334.21" y="72.06"/>
<use href="#ms" x="335.01" y="71.26"/>
<use href="#ms" x="335.79" y="70.52"/>
<use href="#ms" x="336.56" y="69.82"/>
<use href="#ms" x="337.32" y="69.15"/>
<use href="#ms" x="338.07" y="68.5"/>
<use href="#ms" x="338.8" y="67.88"/>
<use href="#ms" x="339.52" y="67.28"/>
<use href="#ms" x="340.23" y="66.7"/>
<use href="#ms" x="340.93" y="66.15"/>
<use href="#ms" x="341.62" y="65.61"/>
<use href="#ms" x="342.3" y="65.09"/>
<use href="#ms" x="342.97" y="64.6"/>
<use href="#ms" x="343.63" y="64.11"/>
<use href="#ms" x="344.27" y="63.65"/>
<use href="#ms" x="344.91" y="63.2"/>
<use href="#ms" x="345.55" y="62.76"/>
<use href="#ms" x="346.17" y="62.34"/>
<use href="#ms" x="346.78" y="61.94"/>
<use href="#ms" x="347.39" y="61.54"/>
<use href="#ms" x="347.98" y="61.16"/>
<use href="#ms" x="348.57" y="60.79"/>
<use href="#ms" x="349.15" y="60.42"/>
<use href="#ms" x="349.73" y="60.07"/>
<use href="#ms" x="350.3" y="59.73"/>
<use href="#ms" x="350.86" y="59.4"/>
<use href="#ms" x="351.41" y="59.08"/>
<use href="#ms" x="351.95" y="58.76"/>
<use href="#ms" x="352.49" y="58.46"/>
<use href="#ms" x="353.03" y="58.16"/>
<use href="#ms" x="353.56" y="57.86"/>
<use href="#ms" x="354.08" y="57.58"/>
<use href="#ms" x="354.59" y="57.3"/>
<use href="#ms" x="355.1" y="57.02"/>
<use href="#ms" x="355.6" y="56.75"/>
<use href="#ms" x="356.1" y="56.49"/>
<use href="#ms" x="356.59" y="56.24"/>
<use href="#ms" x="357.08" y="55.99"/>
<use href="#ms" x="357.56" y="55.74"/>
<use href="#ms" x="358.04" y="55.51"/>
<use href="#ms" x="358.51" y="55.27"/>
<use href="#ms" x="358.98" y="55.05"/>
<use href="#ms" x="359.44" y="54.82"/>
<use href="#ms" x="359.9" y="54.61"/>
<use href="#ms" x="360.35" y="54.39"/>
<use href="#ms" x="360.8" y="54.19"/>
<use href="#ms" x="361.24" y="53.99"/>
<use href="#ms" x="361.68" y="53.79"/>
<use href="#ms" x="362.12" y="53.6"/>
<use href="#ms" x="362.55" y="53.41"/>
<use href="#ms" x="362.98" y="53.22"/>
<use href="#ms" x="363.4" y="53.04"/>
<use href="#ms" x="363.82" y="52.87"/>
<use href="#ms" x="364.23" y="52.7"/>
<use href="#ms" x="364.65" y="52.53"/>
<use href="#ms" x="365.05" y="52.37"/>
<use href="#ms" x="365.46" y="52.21"/>
<use href="#ms" x="365.86" y="52.05"/>
<use href="#ms" x="366.25" y="51.9"/>
<use href="#ms" x="366.65" y="51.76"/>
<use href="#ms" x="367.04" y="51.61"/>
<use href="#ms" x="367.42" y="51.47"/>
<use href="#ms" x="367.81" y="51.33"/>
<use href="#ms" x="368.19" y="51.19"/>
<use href="#ms" x="368.57" y="51.06"/>
<use href="#ms" x="368.94" y="50.93"/>
<use href="#ms" x="369.31" y="50.79"/>
<use href="#ms" x="369.68" y="50.67"/>
<use href="#ms" x="370.04" y="50.54"/>
<use href="#ms" x="370.4" y="50.42"/>
<use href="#ms" x="370.76" y="50.29"/>
<use href="#ms" x="371.12" y="50.17"/>
<use href="#ms" x="371.48" y="50.05"/>
<use href="#ms" x="371.84" y="49.94"/>
<use href="#ms" x="372.2" y="49.82"/>
<use href="#ms" x="372.55" y="49.7"/>
<use href="#ms" x="372.91" y="49.59"/>
<use href="#ms" x="373.27" y="49.48"/>
<use href="#ms" x="373.63" y="49.37"/>
<use href="#ms" x="373.99" y="49.26"/>
<use href="#ms" x="374.35" y="49.15"/>
<use href="#ms" x="374.7" y="49.05"/>
<use href="#ms" x="375.06" y="48.94"/>
<use href="#ms" x="375.42" y="48.84"/>
<use href="#ms" x="375.78" y="48.74"/>
<use href="#ms" x="376.14" y="48.64"/>
<use href="#ms" x="376.5" y="48.54"/>
<use href="#ms" x="376.85" y="48.45"/>
<use href="#ms" x="377.21" y="48.35"/>
<use href="#ms" x="377.57" y="48.26"/>
<use href="#ms" x="377.93" y="48.17"/>
<use href="#ms" x="378.29" y="48.09"/>
<use href="#ms" x="378.65" y="48"/>
<use href="#ms" x="379" y="47.92"/>
<use href="#ms" x="379.36" y="47.84"/>
<use href="#ms" x="379.72" y="47.76"/>
<use href="#ms" x="380.08" y="47.68"/>
<use href="#ms" x="380.44" y="47.61"/>
<use href="#ms" x="380.8" y="47.53"/>
<use href="#ms" x="381.15" y="47.46"/>
<use href="#ms" x="381.51" y="47.39"/>
<use href="#ms" x="381.87" y="47.31"/>
<use href="#ms" x="382.23" y="47.24"/>
<use href="#ms" x="382.59" y="47.17"/>
<use href="#ms" x="382.95" y="47.1"/>
<use href="#ms" x="383.3" y="47.03"/>
<use href="#ms" x="383.66" y="46.96"/>
<use href="#ms" x="384.02" y="46.89"/>
<use href="#ms" x="384.38" y="46.82"/>
<use href="#ms" x="384.74" y="46.75"/>
<use href="#ms" x="385.1" y="46.69"/>
<use href="#ms" x="385.45" y="46.62"/>
<use href="#ms" x="385.81" y="46.55"/>
<use href="#ms" x="386.17" y="46.49"/>
<use href="#ms" x="386.53" y="46.43"/>
<use href="#ms" x="386.89" y="46.36"/>
<use href="#ms" x="387.25" y="46.3"/>
<use href="#ms" x="387.6" y="46.24"/>
<use href="#ms" x="387.96" y="46.18"/>
<use href="#ms" x="388.32" y="46.12"/>
<use href="#ms" x="388.68" y="46.06"/>
<use href="#ms" x="389.04" y="46.01"/>
<use href="#ms" x="389.4" y="45.95"/>
<use href="#ms" x="389.75" y="45.89"/>
<use href="#ms" x="390.11" y="45.84"/>
<use href="#ms" x="390.47" y="45.79"/>
<use href="#ms" x="390.83" y="45.73"/>
<use href="#ms" x="391.19" y="45.68"/>
<use href="#ms" x="391.55" y="45.63"/>
<use href="#ms" x="391.9" y="45.58"/>
<use href="#ms" x="392.26" y="45.53"/>
<use href="#ms" x="392.62" y="45.49"/>
<use href="#ms" x="392.98" y="45.44"/>
<use href="#ms" x="393.34" y="45.39"/>
<use href="#ms" x="393.7" y="45.35"/>
<use href="#ms" x="394.05" y="45.31"/>
<use href="#ms" x="394.41" y="45.27"/>
<use href="#ms" x="394.77" y="45.22"/>
<use href="#ms" x="395.13" y="45.19"/>
<use href="#ms" x="395.49" y="45.15"/>
<use href="#ms" x="395.85" y="45.11"/>
<use href="#ms" x="396.2" y="45.07"/>
<use href="#ms" x="396.56" y="45.04"/>
<use href="#ms" x="396.92" y="45.01"/>
<use href="#ms" x="397.28" y="44.97"/>
<use href="#ms" x="397.64" y="44.94"/>
<use href="#ms" x="398" y="44.91"/>
<use href="#ms" x="398.35" y="44.88"/>
<use href="#ms" x="398.71" y="44.85"/>
<use href="#ms" x="399.07" y="44.81"/>
<use href="#ms" x="399.43" y="44.78"/>
<use href="#ms" x="399.79" y="44.75"/>
<use href="#ms" x="400.15" y="44.72"/>
<use href="#ms" x="400.5" y="44.69"/>
<use href="#ms" x="400.86" y="44.66"/>
<use href="#ms" x="401.22" y="44.63"/>
<use href="#ms" x="401.58" y="44.59"/>
<use href="#ms" x="401.94" y="44.56"/>
<use href="#ms" x="402.3" y="44.53"/>
<use href="#ms" x="402.65" y="44.5"/>
<use href="#ms" x="403.01" y="44.47"/>
<use href="#ms" x="403.37" y="44.44"/>
<use href="#ms" x="403.73" y="44.41"/>
<use href="#ms" x="404.09" y="44.38"/>
<use href="#ms" x="404.45" y="44.36"/>
<use href="#ms" x="404.8" y="44.33"/>
<use href="#ms" x="405.16" y="44.3"/>
<use href="#ms" x="405.52" y="44.27"/>
<use href="#ms" x="405.88" y="44.24"/>
<use href="#ms" x="406.24" y="44.22"/>
<use href="#ms" x="406.6" y="44.19"/>
<use href="#ms" x="406.95" y="44.16"/>
<use href="#ms" x="407.31" y="44.14"/>
<use href="#ms" x="407.67" y="44.11"/>
<use href="#ms" x="408.03" y="44.09"/>
<use href="#ms" x="408.39" y="44.06"/>
<use href="#ms" x="408.75" y="44.04"/>
<use href="#ms" x="409.1" y="44.01"/>
<use href="#ms" x="409.46" y="43.99"/>
<use href="#ms" x="409.82" y="43.97"/>
<use href="#ms" x="410.18" y="43.95"/>
<use href="#ms" x="410.54" y="43.92"/>
<use href="#ms" x="410.9" y="43.9"/>
<use href="#ms" x="411.26" y="43.88"/>
<use href="#ms" x="411.61" y="43.86"/>
<use href="#ms" x="411.97" y="43.84"/>
<use href="#ms" x="412.33" y="43.83"/>
<use href="#ms" x="412.69" y="43.81"/>
<use href="#ms" x="413.05" y="43.79"/>
<use href="#ms" x="413.41" y="43.77"/>
<use href="#ms" x="413.76" y="43.76"/>
<use href="#ms" x="414.12" y="43.74"/>
<use href="#ms" x="414.48" y="43.73"/>
<use href="#ms" x="414.84" y="43.71"/>
<use href="#ms" x="415.2" y="43.7"/>
<use href="#ms" x="415.56" y="43.69"/>
<use href="#ms" x="415.91" y="43.68"/>
<use href="#ms" x="416.27" y="43.66"/>
<use href="#ms" x="416.63" y="43.65"/>
<use href="#ms" x="416.99" y="43.65"/>
<use href="#ms" x="417.35" y="43.64"/>
<use href="#ms" x="417.71" y="43.63"/>
<use href="#ms" x="418.06" y="43.62"/>
<polyline points="295.9,142.37 296.92,141.46 297.94,140.53 298.96,139.58 299.98,138.6 301,137.6 302.02,136.57 303.04,135.52 304.06,134.44 305.08,133.34 306.1,132.22 307.12,131.07 308.14,129.9 309.16,128.71 310.18,127.5 311.2,126.26 312.22,125.01 313.24,123.74 314.26,122.44 315.28,121.14 316.3,119.81 317.32,118.47 318.34,117.12 319.36,115.75 320.38,114.38 321.4,112.99 322.42,111.59 323.44,110.19 324.46,108.78 325.48,107.36 326.49,105.94 327.51,104.52 328.53,103.1 329.55,101.68 330.57,100.26 331.59,98.85 332.61,97.44 333.63,96.04 334.65,94.65 335.67,93.27 336.69,91.89 337.71,90.53 338.73,89.19 339.75,87.85 340.77,86.54 341.79,85.24 342.81,83.95 343.83,82.69 344.85,81.44 345.87,80.22 346.89,79.02 347.91,77.83 348.93,76.68 349.95,75.54 350.97,74.43 351.99,73.34 353.01,72.27 354.03,71.23 355.05,70.21 356.07,69.22 357.09,68.25 358.11,67.31 359.13,66.39 360.15,65.5 361.17,64.63 362.19,63.79 363.21,62.97 364.23,62.17 365.25,61.4 366.27,60.65 367.29,59.93 368.31,59.23 369.33,58.55 370.35,57.89 371.37,57.25 372.39,56.64 373.41,56.04 374.43,55.47 375.45,54.92 376.47,54.38 377.49,53.87 378.51,53.37 379.53,52.89 380.55,52.43 381.57,51.98 382.59,51.55 383.61,51.14 384.63,50.75 385.65,50.36 386.67,50 387.68,49.64 388.7,49.3 389.72,48.98 390.74,48.66 391.76,48.36 392.78,48.07 393.8,47.8 394.82,47.53 395.84,47.27 396.86,47.03 397.88,46.79 398.9,46.57 399.92,46.35 400.94,46.14 401.96,45.94 402.98,45.75 404,45.57 405.02,45.39 406.04,45.22 407.06,45.06 408.08,44.91 409.1,44.76 410.12,44.62 411.14,44.48 412.16,44.35 413.18,44.23 414.2,44.11 415.22,43.99 416.24,43.88 417.26,43.78 418.28,43.68" fill="none" stroke="#000" stroke-width="2.2" stroke-linejoin="round" stroke-linecap="round" />
<circle cx="372.3" cy="116.7" r="3.2" fill="none" stroke="#f2865c" stroke-width="1"/>
<path d="M372.3,125.4L376.7,129.8L372.3,134.2L367.9,129.8Z" fill="none" stroke="#40b58c" stroke-width="1"/>
<rect x="369.4" y="140.3" width="5.8" height="5.8" fill="none" stroke="#8494d0" stroke-width="1"/>
<text x="380.6" y="120.6" font-size="10.7" text-anchor="start" fill="#1a1a1a" >10 nm</text>
<text x="380.6" y="133.7" font-size="10.7" text-anchor="start" fill="#1a1a1a" >23 nm</text>
<text x="380.6" y="147.1" font-size="10.7" text-anchor="start" fill="#1a1a1a" >29 nm</text>
<line x1="364.3" y1="156.7" x2="379.8" y2="156.7" stroke="#000" stroke-width="2" />
<text x="384.6" y="160.6" font-size="10.7" text-anchor="start" fill="#1a1a1a" >DFT</text>
<rect x="291.4" y="217" width="133.1" height="134.2" fill="none" stroke="#3a3a3a" stroke-width="1.1"/>
<line x1="295.4" y1="351.2" x2="295.4" y2="346.2" stroke="#333" stroke-width="0.65" />
<line x1="398.5" y1="351.2" x2="398.5" y2="346.2" stroke="#333" stroke-width="0.65" />
<line x1="326.44" y1="351.2" x2="326.44" y2="348.2" stroke="#333" stroke-width="0.65" />
<line x1="344.59" y1="351.2" x2="344.59" y2="348.2" stroke="#333" stroke-width="0.65" />
<line x1="357.47" y1="351.2" x2="357.47" y2="348.2" stroke="#333" stroke-width="0.65" />
<line x1="367.46" y1="351.2" x2="367.46" y2="348.2" stroke="#333" stroke-width="0.65" />
<line x1="375.63" y1="351.2" x2="375.63" y2="348.2" stroke="#333" stroke-width="0.65" />
<line x1="382.53" y1="351.2" x2="382.53" y2="348.2" stroke="#333" stroke-width="0.65" />
<line x1="388.51" y1="351.2" x2="388.51" y2="348.2" stroke="#333" stroke-width="0.65" />
<line x1="393.78" y1="351.2" x2="393.78" y2="348.2" stroke="#333" stroke-width="0.65" />
<line x1="416.66" y1="351.2" x2="416.66" y2="348.2" stroke="#333" stroke-width="0.65" />
<line x1="305.03" y1="217" x2="305.03" y2="222" stroke="#333" stroke-width="0.65" />
<line x1="408.13" y1="217" x2="408.13" y2="222" stroke="#333" stroke-width="0.65" />
<line x1="309.74" y1="217" x2="309.74" y2="220" stroke="#333" stroke-width="0.65" />
<line x1="315.02" y1="217" x2="315.02" y2="220" stroke="#333" stroke-width="0.65" />
<line x1="321" y1="217" x2="321" y2="220" stroke="#333" stroke-width="0.65" />
<line x1="327.9" y1="217" x2="327.9" y2="220" stroke="#333" stroke-width="0.65" />
<line x1="336.06" y1="217" x2="336.06" y2="220" stroke="#333" stroke-width="0.65" />
<line x1="346.05" y1="217" x2="346.05" y2="220" stroke="#333" stroke-width="0.65" />
<line x1="358.93" y1="217" x2="358.93" y2="220" stroke="#333" stroke-width="0.65" />
<line x1="377.09" y1="217" x2="377.09" y2="220" stroke="#333" stroke-width="0.65" />
<line x1="412.84" y1="217" x2="412.84" y2="220" stroke="#333" stroke-width="0.65" />
<line x1="418.12" y1="217" x2="418.12" y2="220" stroke="#333" stroke-width="0.65" />
<line x1="291.4" y1="340.3" x2="295.4" y2="340.3" stroke="#333" stroke-width="0.65" />
<line x1="424.5" y1="340.3" x2="420.5" y2="340.3" stroke="#333" stroke-width="0.65" />
<line x1="291.4" y1="317.93" x2="295.4" y2="317.93" stroke="#333" stroke-width="0.65" />
<line x1="424.5" y1="317.93" x2="420.5" y2="317.93" stroke="#333" stroke-width="0.65" />
<line x1="291.4" y1="295.56" x2="295.4" y2="295.56" stroke="#333" stroke-width="0.65" />
<line x1="424.5" y1="295.56" x2="420.5" y2="295.56" stroke="#333" stroke-width="0.65" />
<line x1="291.4" y1="273.19" x2="295.4" y2="273.19" stroke="#333" stroke-width="0.65" />
<line x1="424.5" y1="273.19" x2="420.5" y2="273.19" stroke="#333" stroke-width="0.65" />
<line x1="291.4" y1="250.82" x2="295.4" y2="250.82" stroke="#333" stroke-width="0.65" />
<line x1="424.5" y1="250.82" x2="420.5" y2="250.82" stroke="#333" stroke-width="0.65" />
<line x1="291.4" y1="228.45" x2="295.4" y2="228.45" stroke="#333" stroke-width="0.65" />
<line x1="424.5" y1="228.45" x2="420.5" y2="228.45" stroke="#333" stroke-width="0.65" />
<text x="288.8" y="344.24" font-size="11" text-anchor="end" fill="#1a1a1a" >0.0</text>
<text x="288.8" y="321.87" font-size="11" text-anchor="end" fill="#1a1a1a" >0.2</text>
<text x="288.8" y="299.5" font-size="11" text-anchor="end" fill="#1a1a1a" >0.4</text>
<text x="288.8" y="277.13" font-size="11" text-anchor="end" fill="#1a1a1a" >0.6</text>
<text x="288.8" y="254.76" font-size="11" text-anchor="end" fill="#1a1a1a" >0.8</text>
<text x="288.8" y="232.39" font-size="11" text-anchor="end" fill="#1a1a1a" >1.0</text>
<text x="295.4" y="364.24" font-size="11" text-anchor="middle" fill="#1a1a1a" >0.1</text>
<text x="326.44" y="364.24" font-size="11" text-anchor="middle" fill="#1a1a1a" >0.2</text>
<text x="367.46" y="364.24" font-size="11" text-anchor="middle" fill="#1a1a1a" >0.5</text>
<text x="398.5" y="364.24" font-size="11" text-anchor="middle" fill="#1a1a1a" >1.0</text>
<text x="416.66" y="364.24" font-size="11" text-anchor="middle" fill="#1a1a1a" >1.5</text>
<text x="303.03" y="213.54" font-size="11" text-anchor="middle" fill="#1a1a1a" >10.0</text>
<text x="327.3" y="213.54" font-size="11" text-anchor="middle" fill="#1a1a1a" >6.0</text>
<text x="346.05" y="213.54" font-size="11" text-anchor="middle" fill="#1a1a1a" >4.0</text>
<text x="377.09" y="213.54" font-size="11" text-anchor="middle" fill="#1a1a1a" >2.0</text>
<text x="408.13" y="213.54" font-size="11" text-anchor="middle" fill="#1a1a1a" >1.0</text>
<text x="355.3" y="381.8" font-size="12" text-anchor="middle" fill="#1a1a1a" >energy (eV)</text>
<g transform="translate(260.8 303.3) rotate(-90)" fill="#1a1a1a">
<text x="0" y="0" font-size="12.5">ε</text>
<text x="6.2" y="4.1" font-size="10">2</text>
<text x="11.9" y="0" font-size="11">×</text>
<text x="17.7" y="0" font-size="11">10</text>
<text x="31" y="-4" font-size="10">3</text>
</g>
<use href="#mc" x="295.4" y="284.43"/>
<use href="#mc" x="297.24" y="287.61"/>
<use href="#mc" x="299.01" y="290.61"/>
<use href="#mc" x="300.71" y="293.45"/>
<use href="#mc" x="302.35" y="296.12"/>
<use href="#mc" x="303.94" y="298.71"/>
<use href="#mc" x="305.46" y="301.2"/>
<use href="#mc" x="306.94" y="303.54"/>
<use href="#mc" x="308.37" y="305.68"/>
<use href="#mc" x="309.76" y="307.57"/>
<use href="#mc" x="311.1" y="309.31"/>
<use href="#mc" x="312.41" y="310.93"/>
<use href="#mc" x="313.67" y="312.44"/>
<use href="#mc" x="314.91" y="313.83"/>
<use href="#mc" x="316.11" y="315.12"/>
<use href="#mc" x="317.28" y="316.31"/>
<use href="#mc" x="318.42" y="317.39"/>
<use href="#mc" x="319.53" y="318.4"/>
<use href="#mc" x="320.61" y="319.34"/>
<use href="#mc" x="321.67" y="320.22"/>
<use href="#mc" x="322.7" y="321.04"/>
<use href="#mc" x="323.71" y="321.81"/>
<use href="#mc" x="324.7" y="322.54"/>
<use href="#mc" x="325.67" y="323.22"/>
<use href="#mc" x="326.61" y="323.88"/>
<use href="#mc" x="327.54" y="324.49"/>
<use href="#mc" x="328.45" y="325.08"/>
<use href="#mc" x="329.34" y="325.65"/>
<use href="#mc" x="330.21" y="326.18"/>
<use href="#mc" x="331.07" y="326.69"/>
<use href="#mc" x="331.91" y="327.17"/>
<use href="#mc" x="332.73" y="327.63"/>
<use href="#mc" x="333.54" y="328.06"/>
<use href="#mc" x="334.34" y="328.47"/>
<use href="#mc" x="335.12" y="328.86"/>
<use href="#mc" x="335.89" y="329.22"/>
<use href="#mc" x="336.64" y="329.57"/>
<use href="#mc" x="337.38" y="329.91"/>
<use href="#mc" x="338.11" y="330.23"/>
<use href="#mc" x="338.83" y="330.54"/>
<use href="#mc" x="339.54" y="330.83"/>
<use href="#mc" x="340.24" y="331.11"/>
<use href="#mc" x="340.92" y="331.38"/>
<use href="#mc" x="341.6" y="331.65"/>
<use href="#mc" x="342.26" y="331.9"/>
<use href="#mc" x="342.92" y="332.14"/>
<use href="#mc" x="343.56" y="332.37"/>
<use href="#mc" x="344.2" y="332.6"/>
<use href="#mc" x="344.83" y="332.82"/>
<use href="#mc" x="345.45" y="333.03"/>
<use href="#mc" x="346.06" y="333.24"/>
<use href="#mc" x="346.66" y="333.45"/>
<use href="#mc" x="347.26" y="333.64"/>
<use href="#mc" x="347.84" y="333.83"/>
<use href="#mc" x="348.42" y="334.02"/>
<use href="#mc" x="348.99" y="334.19"/>
<use href="#mc" x="349.56" y="334.36"/>
<use href="#mc" x="350.12" y="334.52"/>
<use href="#mc" x="350.67" y="334.67"/>
<use href="#mc" x="351.21" y="334.81"/>
<use href="#mc" x="351.75" y="334.94"/>
<use href="#mc" x="352.28" y="335.06"/>
<use href="#mc" x="352.8" y="335.18"/>
<use href="#mc" x="353.32" y="335.3"/>
<use href="#mc" x="353.84" y="335.41"/>
<use href="#mc" x="354.34" y="335.51"/>
<use href="#mc" x="354.84" y="335.62"/>
<use href="#mc" x="355.34" y="335.71"/>
<use href="#mc" x="355.83" y="335.81"/>
<use href="#mc" x="356.32" y="335.9"/>
<use href="#mc" x="356.8" y="335.99"/>
<use href="#mc" x="357.27" y="336.07"/>
<use href="#mc" x="357.74" y="336.16"/>
<use href="#mc" x="358.21" y="336.24"/>
<use href="#mc" x="358.67" y="336.31"/>
<use href="#mc" x="359.12" y="336.39"/>
<use href="#mc" x="359.57" y="336.46"/>
<use href="#mc" x="360.02" y="336.54"/>
<use href="#mc" x="360.46" y="336.61"/>
<use href="#mc" x="360.9" y="336.68"/>
<use href="#mc" x="361.33" y="336.74"/>
<use href="#mc" x="361.76" y="336.81"/>
<use href="#mc" x="362.19" y="336.87"/>
<use href="#mc" x="362.61" y="336.94"/>
<use href="#mc" x="363.02" y="337"/>
<use href="#mc" x="363.44" y="337.07"/>
<use href="#mc" x="363.85" y="337.13"/>
<use href="#mc" x="364.25" y="337.19"/>
<use href="#mc" x="364.66" y="337.25"/>
<use href="#mc" x="365.05" y="337.31"/>
<use href="#mc" x="365.45" y="337.37"/>
<use href="#mc" x="365.84" y="337.43"/>
<use href="#mc" x="366.23" y="337.49"/>
<use href="#mc" x="366.61" y="337.54"/>
<use href="#mc" x="367" y="337.6"/>
<use href="#mc" x="367.37" y="337.65"/>
<use href="#mc" x="367.75" y="337.71"/>
<use href="#mc" x="368.12" y="337.76"/>
<use href="#mc" x="368.49" y="337.81"/>
<use href="#mc" x="368.86" y="337.86"/>
<use href="#mc" x="369.22" y="337.91"/>
<use href="#mc" x="369.58" y="337.96"/>
<use href="#mc" x="369.94" y="338.01"/>
<use href="#mc" x="370.29" y="338.06"/>
<use href="#mc" x="370.65" y="338.11"/>
<use href="#mc" x="371.01" y="338.15"/>
<use href="#mc" x="371.36" y="338.2"/>
<use href="#mc" x="371.72" y="338.24"/>
<use href="#mc" x="372.08" y="338.29"/>
<use href="#mc" x="372.43" y="338.33"/>
<use href="#mc" x="372.79" y="338.38"/>
<use href="#mc" x="373.15" y="338.42"/>
<use href="#mc" x="373.51" y="338.46"/>
<use href="#mc" x="373.86" y="338.5"/>
<use href="#mc" x="374.22" y="338.54"/>
<use href="#mc" x="374.58" y="338.58"/>
<use href="#mc" x="374.93" y="338.62"/>
<use href="#mc" x="375.29" y="338.66"/>
<use href="#mc" x="375.65" y="338.7"/>
<use href="#mc" x="376" y="338.73"/>
<use href="#mc" x="376.36" y="338.77"/>
<use href="#mc" x="376.72" y="338.8"/>
<use href="#mc" x="377.07" y="338.83"/>
<use href="#mc" x="377.43" y="338.87"/>
<use href="#mc" x="377.79" y="338.9"/>
<use href="#mc" x="378.14" y="338.93"/>
<use href="#mc" x="378.5" y="338.95"/>
<use href="#mc" x="378.86" y="338.98"/>
<use href="#mc" x="379.21" y="339.01"/>
<use href="#mc" x="379.57" y="339.03"/>
<use href="#mc" x="379.93" y="339.06"/>
<use href="#mc" x="380.28" y="339.09"/>
<use href="#mc" x="380.64" y="339.11"/>
<use href="#mc" x="381" y="339.13"/>
<use href="#mc" x="381.35" y="339.16"/>
<use href="#mc" x="381.71" y="339.18"/>
<use href="#mc" x="382.07" y="339.21"/>
<use href="#mc" x="382.42" y="339.23"/>
<use href="#mc" x="382.78" y="339.25"/>
<use href="#mc" x="383.14" y="339.28"/>
<use href="#mc" x="383.5" y="339.3"/>
<use href="#mc" x="383.85" y="339.32"/>
<use href="#mc" x="384.21" y="339.34"/>
<use href="#mc" x="384.57" y="339.36"/>
<use href="#mc" x="384.92" y="339.38"/>
<use href="#mc" x="385.28" y="339.4"/>
<use href="#mc" x="385.64" y="339.43"/>
<use href="#mc" x="385.99" y="339.45"/>
<use href="#mc" x="386.35" y="339.47"/>
<use href="#mc" x="386.71" y="339.48"/>
<use href="#mc" x="387.06" y="339.5"/>
<use href="#mc" x="387.42" y="339.52"/>
<use href="#mc" x="387.78" y="339.54"/>
<use href="#mc" x="388.13" y="339.56"/>
<use href="#mc" x="388.49" y="339.58"/>
<use href="#mc" x="388.85" y="339.6"/>
<use href="#mc" x="389.2" y="339.61"/>
<use href="#mc" x="389.56" y="339.63"/>
<use href="#mc" x="389.92" y="339.65"/>
<use href="#mc" x="390.27" y="339.66"/>
<use href="#mc" x="390.63" y="339.68"/>
<use href="#mc" x="390.99" y="339.69"/>
<use href="#mc" x="391.34" y="339.71"/>
<use href="#mc" x="391.7" y="339.73"/>
<use href="#mc" x="392.06" y="339.74"/>
<use href="#mc" x="392.41" y="339.75"/>
<use href="#mc" x="392.77" y="339.77"/>
<use href="#mc" x="393.13" y="339.78"/>
<use href="#mc" x="393.49" y="339.8"/>
<use href="#mc" x="393.84" y="339.81"/>
<use href="#mc" x="394.2" y="339.82"/>
<use href="#mc" x="394.56" y="339.84"/>
<use href="#mc" x="394.91" y="339.85"/>
<use href="#mc" x="395.27" y="339.86"/>
<use href="#mc" x="395.63" y="339.87"/>
<use href="#mc" x="395.98" y="339.88"/>
<use href="#mc" x="396.34" y="339.9"/>
<use href="#mc" x="396.7" y="339.91"/>
<use href="#mc" x="397.05" y="339.92"/>
<use href="#mc" x="397.41" y="339.93"/>
<use href="#mc" x="397.77" y="339.94"/>
<use href="#mc" x="398.12" y="339.95"/>
<use href="#mc" x="398.48" y="339.96"/>
<use href="#mc" x="398.84" y="339.97"/>
<use href="#mc" x="399.19" y="339.98"/>
<use href="#mc" x="399.55" y="339.99"/>
<use href="#mc" x="399.91" y="340"/>
<use href="#mc" x="400.26" y="340.01"/>
<use href="#mc" x="400.62" y="340.02"/>
<use href="#mc" x="400.98" y="340.04"/>
<use href="#mc" x="401.33" y="340.05"/>
<use href="#mc" x="401.69" y="340.06"/>
<use href="#mc" x="402.05" y="340.07"/>
<use href="#mc" x="402.4" y="340.08"/>
<use href="#mc" x="402.76" y="340.09"/>
<use href="#mc" x="403.12" y="340.1"/>
<use href="#mc" x="403.47" y="340.11"/>
<use href="#mc" x="403.83" y="340.12"/>
<use href="#mc" x="404.19" y="340.13"/>
<use href="#mc" x="404.55" y="340.14"/>
<use href="#mc" x="404.9" y="340.15"/>
<use href="#mc" x="405.26" y="340.15"/>
<use href="#mc" x="405.62" y="340.16"/>
<use href="#mc" x="405.97" y="340.17"/>
<use href="#mc" x="406.33" y="340.18"/>
<use href="#mc" x="406.69" y="340.19"/>
<use href="#mc" x="407.04" y="340.2"/>
<use href="#mc" x="407.4" y="340.21"/>
<use href="#mc" x="407.76" y="340.22"/>
<use href="#mc" x="408.11" y="340.23"/>
<use href="#mc" x="408.47" y="340.23"/>
<use href="#mc" x="408.83" y="340.24"/>
<use href="#mc" x="409.18" y="340.25"/>
<use href="#mc" x="409.54" y="340.26"/>
<use href="#mc" x="409.9" y="340.27"/>
<use href="#mc" x="410.25" y="340.27"/>
<use href="#mc" x="410.61" y="340.28"/>
<use href="#mc" x="410.97" y="340.29"/>
<use href="#mc" x="411.32" y="340.3"/>
<use href="#mc" x="411.68" y="340.3"/>
<use href="#mc" x="412.04" y="340.31"/>
<use href="#mc" x="412.39" y="340.31"/>
<use href="#mc" x="412.75" y="340.32"/>
<use href="#mc" x="413.11" y="340.33"/>
<use href="#mc" x="413.46" y="340.33"/>
<use href="#mc" x="413.82" y="340.34"/>
<use href="#mc" x="414.18" y="340.34"/>
<use href="#mc" x="414.54" y="340.35"/>
<use href="#mc" x="414.89" y="340.35"/>
<use href="#mc" x="415.25" y="340.36"/>
<use href="#mc" x="415.61" y="340.36"/>
<use href="#mc" x="415.96" y="340.37"/>
<use href="#mc" x="416.32" y="340.37"/>
<use href="#mc" x="416.68" y="340.38"/>
<use href="#mc" x="417.03" y="340.38"/>
<use href="#md" x="295.4" y="283.83"/>
<use href="#md" x="297.24" y="287.01"/>
<use href="#md" x="299.01" y="290.01"/>
<use href="#md" x="300.71" y="292.85"/>
<use href="#md" x="302.35" y="295.52"/>
<use href="#md" x="303.94" y="298.11"/>
<use href="#md" x="305.46" y="300.6"/>
<use href="#md" x="306.94" y="302.94"/>
<use href="#md" x="308.37" y="305.08"/>
<use href="#md" x="309.76" y="306.97"/>
<use href="#md" x="311.1" y="308.71"/>
<use href="#md" x="312.41" y="310.33"/>
<use href="#md" x="313.67" y="311.84"/>
<use href="#md" x="314.91" y="313.23"/>
<use href="#md" x="316.11" y="314.52"/>
<use href="#md" x="317.28" y="315.71"/>
<use href="#md" x="318.42" y="316.79"/>
<use href="#md" x="319.53" y="317.8"/>
<use href="#md" x="320.61" y="318.74"/>
<use href="#md" x="321.67" y="319.62"/>
<use href="#md" x="322.7" y="320.44"/>
<use href="#md" x="323.71" y="321.21"/>
<use href="#md" x="324.7" y="321.94"/>
<use href="#md" x="325.67" y="322.62"/>
<use href="#md" x="326.61" y="323.28"/>
<use href="#md" x="327.54" y="323.89"/>
<use href="#md" x="328.45" y="324.48"/>
<use href="#md" x="329.34" y="325.05"/>
<use href="#md" x="330.21" y="325.58"/>
<use href="#md" x="331.07" y="326.09"/>
<use href="#md" x="331.91" y="326.57"/>
<use href="#md" x="332.73" y="327.03"/>
<use href="#md" x="333.54" y="327.46"/>
<use href="#md" x="334.34" y="327.87"/>
<use href="#md" x="335.12" y="328.26"/>
<use href="#md" x="335.89" y="328.62"/>
<use href="#md" x="336.64" y="328.97"/>
<use href="#md" x="337.38" y="329.31"/>
<use href="#md" x="338.11" y="329.63"/>
<use href="#md" x="338.83" y="329.94"/>
<use href="#md" x="339.54" y="330.23"/>
<use href="#md" x="340.24" y="330.51"/>
<use href="#md" x="340.92" y="330.78"/>
<use href="#md" x="341.6" y="331.05"/>
<use href="#md" x="342.26" y="331.3"/>
<use href="#md" x="342.92" y="331.54"/>
<use href="#md" x="343.56" y="331.77"/>
<use href="#md" x="344.2" y="332"/>
<use href="#md" x="344.83" y="332.22"/>
<use href="#md" x="345.45" y="332.43"/>
<use href="#md" x="346.06" y="332.64"/>
<use href="#md" x="346.66" y="332.85"/>
<use href="#md" x="347.26" y="333.04"/>
<use href="#md" x="347.84" y="333.23"/>
<use href="#md" x="348.42" y="333.42"/>
<use href="#md" x="348.99" y="333.59"/>
<use href="#md" x="349.56" y="333.76"/>
<use href="#md" x="350.12" y="333.92"/>
<use href="#md" x="350.67" y="334.07"/>
<use href="#md" x="351.21" y="334.21"/>
<use href="#md" x="351.75" y="334.34"/>
<use href="#md" x="352.28" y="334.46"/>
<use href="#md" x="352.8" y="334.58"/>
<use href="#md" x="353.32" y="334.7"/>
<use href="#md" x="353.84" y="334.81"/>
<use href="#md" x="354.34" y="334.91"/>
<use href="#md" x="354.84" y="335.02"/>
<use href="#md" x="355.34" y="335.11"/>
<use href="#md" x="355.83" y="335.21"/>
<use href="#md" x="356.32" y="335.3"/>
<use href="#md" x="356.8" y="335.39"/>
<use href="#md" x="357.27" y="335.47"/>
<use href="#md" x="357.74" y="335.56"/>
<use href="#md" x="358.21" y="335.64"/>
<use href="#md" x="358.67" y="335.71"/>
<use href="#md" x="359.12" y="335.79"/>
<use href="#md" x="359.57" y="335.86"/>
<use href="#md" x="360.02" y="335.94"/>
<use href="#md" x="360.46" y="336.01"/>
<use href="#md" x="360.9" y="336.08"/>
<use href="#md" x="361.33" y="336.14"/>
<use href="#md" x="361.76" y="336.21"/>
<use href="#md" x="362.19" y="336.27"/>
<use href="#md" x="362.61" y="336.34"/>
<use href="#md" x="363.02" y="336.4"/>
<use href="#md" x="363.44" y="336.47"/>
<use href="#md" x="363.85" y="336.53"/>
<use href="#md" x="364.25" y="336.59"/>
<use href="#md" x="364.66" y="336.65"/>
<use href="#md" x="365.05" y="336.71"/>
<use href="#md" x="365.45" y="336.77"/>
<use href="#md" x="365.84" y="336.83"/>
<use href="#md" x="366.23" y="336.89"/>
<use href="#md" x="366.61" y="336.94"/>
<use href="#md" x="367" y="337"/>
<use href="#md" x="367.37" y="337.05"/>
<use href="#md" x="367.75" y="337.11"/>
<use href="#md" x="368.12" y="337.16"/>
<use href="#md" x="368.49" y="337.21"/>
<use href="#md" x="368.86" y="337.26"/>
<use href="#md" x="369.22" y="337.31"/>
<use href="#md" x="369.58" y="337.36"/>
<use href="#md" x="369.94" y="337.41"/>
<use href="#md" x="370.29" y="337.46"/>
<use href="#md" x="370.65" y="337.51"/>
<use href="#md" x="371.01" y="337.55"/>
<use href="#md" x="371.36" y="337.6"/>
<use href="#md" x="371.72" y="337.64"/>
<use href="#md" x="372.08" y="337.69"/>
<use href="#md" x="372.43" y="337.73"/>
<use href="#md" x="372.79" y="337.78"/>
<use href="#md" x="373.15" y="337.82"/>
<use href="#md" x="373.51" y="337.86"/>
<use href="#md" x="373.86" y="337.9"/>
<use href="#md" x="374.22" y="337.94"/>
<use href="#md" x="374.58" y="337.98"/>
<use href="#md" x="374.93" y="338.02"/>
<use href="#md" x="375.29" y="338.06"/>
<use href="#md" x="375.65" y="338.1"/>
<use href="#md" x="376" y="338.13"/>
<use href="#md" x="376.36" y="338.17"/>
<use href="#md" x="376.72" y="338.2"/>
<use href="#md" x="377.07" y="338.23"/>
<use href="#md" x="377.43" y="338.27"/>
<use href="#md" x="377.79" y="338.3"/>
<use href="#md" x="378.14" y="338.33"/>
<use href="#md" x="378.5" y="338.35"/>
<use href="#md" x="378.86" y="338.38"/>
<use href="#md" x="379.21" y="338.41"/>
<use href="#md" x="379.57" y="338.43"/>
<use href="#md" x="379.93" y="338.46"/>
<use href="#md" x="380.28" y="338.49"/>
<use href="#md" x="380.64" y="338.51"/>
<use href="#md" x="381" y="338.53"/>
<use href="#md" x="381.35" y="338.56"/>
<use href="#md" x="381.71" y="338.58"/>
<use href="#md" x="382.07" y="338.61"/>
<use href="#md" x="382.42" y="338.63"/>
<use href="#md" x="382.78" y="338.65"/>
<use href="#md" x="383.14" y="338.68"/>
<use href="#md" x="383.5" y="338.7"/>
<use href="#md" x="383.85" y="338.72"/>
<use href="#md" x="384.21" y="338.74"/>
<use href="#md" x="384.57" y="338.76"/>
<use href="#md" x="384.92" y="338.78"/>
<use href="#md" x="385.28" y="338.8"/>
<use href="#md" x="385.64" y="338.83"/>
<use href="#md" x="385.99" y="338.85"/>
<use href="#md" x="386.35" y="338.87"/>
<use href="#md" x="386.71" y="338.88"/>
<use href="#md" x="387.06" y="338.9"/>
<use href="#md" x="387.42" y="338.92"/>
<use href="#md" x="387.78" y="338.94"/>
<use href="#md" x="388.13" y="338.96"/>
<use href="#md" x="388.49" y="338.98"/>
<use href="#md" x="388.85" y="339"/>
<use href="#md" x="389.2" y="339.01"/>
<use href="#md" x="389.56" y="339.03"/>
<use href="#md" x="389.92" y="339.05"/>
<use href="#md" x="390.27" y="339.06"/>
<use href="#md" x="390.63" y="339.08"/>
<use href="#md" x="390.99" y="339.09"/>
<use href="#md" x="391.34" y="339.11"/>
<use href="#md" x="391.7" y="339.13"/>
<use href="#md" x="392.06" y="339.14"/>
<use href="#md" x="392.41" y="339.15"/>
<use href="#md" x="392.77" y="339.17"/>
<use href="#md" x="393.13" y="339.18"/>
<use href="#md" x="393.49" y="339.2"/>
<use href="#md" x="393.84" y="339.21"/>
<use href="#md" x="394.2" y="339.22"/>
<use href="#md" x="394.56" y="339.24"/>
<use href="#md" x="394.91" y="339.25"/>
<use href="#md" x="395.27" y="339.26"/>
<use href="#md" x="395.63" y="339.27"/>
<use href="#md" x="395.98" y="339.28"/>
<use href="#md" x="396.34" y="339.3"/>
<use href="#md" x="396.7" y="339.31"/>
<use href="#md" x="397.05" y="339.32"/>
<use href="#md" x="397.41" y="339.33"/>
<use href="#md" x="397.77" y="339.34"/>
<use href="#md" x="398.12" y="339.35"/>
<use href="#md" x="398.48" y="339.36"/>
<use href="#md" x="398.84" y="339.37"/>
<use href="#md" x="399.19" y="339.38"/>
<use href="#md" x="399.55" y="339.39"/>
<use href="#md" x="399.91" y="339.4"/>
<use href="#md" x="400.26" y="339.41"/>
<use href="#md" x="400.62" y="339.42"/>
<use href="#md" x="400.98" y="339.44"/>
<use href="#md" x="401.33" y="339.45"/>
<use href="#md" x="401.69" y="339.46"/>
<use href="#md" x="402.05" y="339.47"/>
<use href="#md" x="402.4" y="339.48"/>
<use href="#md" x="402.76" y="339.49"/>
<use href="#md" x="403.12" y="339.5"/>
<use href="#md" x="403.47" y="339.51"/>
<use href="#md" x="403.83" y="339.52"/>
<use href="#md" x="404.19" y="339.53"/>
<use href="#md" x="404.55" y="339.54"/>
<use href="#md" x="404.9" y="339.55"/>
<use href="#md" x="405.26" y="339.55"/>
<use href="#md" x="405.62" y="339.56"/>
<use href="#md" x="405.97" y="339.57"/>
<use href="#md" x="406.33" y="339.58"/>
<use href="#md" x="406.69" y="339.59"/>
<use href="#md" x="407.04" y="339.6"/>
<use href="#md" x="407.4" y="339.61"/>
<use href="#md" x="407.76" y="339.62"/>
<use href="#md" x="408.11" y="339.63"/>
<use href="#md" x="408.47" y="339.63"/>
<use href="#md" x="408.83" y="339.64"/>
<use href="#md" x="409.18" y="339.65"/>
<use href="#md" x="409.54" y="339.66"/>
<use href="#md" x="409.9" y="339.67"/>
<use href="#md" x="410.25" y="339.67"/>
<use href="#md" x="410.61" y="339.68"/>
<use href="#md" x="410.97" y="339.69"/>
<use href="#md" x="411.32" y="339.7"/>
<use href="#md" x="411.68" y="339.7"/>
<use href="#md" x="412.04" y="339.71"/>
<use href="#md" x="412.39" y="339.71"/>
<use href="#md" x="412.75" y="339.72"/>
<use href="#md" x="413.11" y="339.73"/>
<use href="#md" x="413.46" y="339.73"/>
<use href="#md" x="413.82" y="339.74"/>
<use href="#md" x="414.18" y="339.74"/>
<use href="#md" x="414.54" y="339.75"/>
<use href="#md" x="414.89" y="339.75"/>
<use href="#md" x="415.25" y="339.76"/>
<use href="#md" x="415.61" y="339.76"/>
<use href="#md" x="415.96" y="339.77"/>
<use href="#md" x="416.32" y="339.77"/>
<use href="#md" x="416.68" y="339.78"/>
<use href="#md" x="417.03" y="339.78"/>
<use href="#ms" x="295.4" y="284.13"/>
<use href="#ms" x="297.24" y="287.31"/>
<use href="#ms" x="299.01" y="290.31"/>
<use href="#ms" x="300.71" y="293.15"/>
<use href="#ms" x="302.35" y="295.82"/>
<use href="#ms" x="303.94" y="298.41"/>
<use href="#ms" x="305.46" y="300.9"/>
<use href="#ms" x="306.94" y="303.24"/>
<use href="#ms" x="308.37" y="305.38"/>
<use href="#ms" x="309.76" y="307.27"/>
<use href="#ms" x="311.1" y="309.01"/>
<use href="#ms" x="312.41" y="310.63"/>
<use href="#ms" x="313.67" y="312.14"/>
<use href="#ms" x="314.91" y="313.53"/>
<use href="#ms" x="316.11" y="314.82"/>
<use href="#ms" x="317.28" y="316.01"/>
<use href="#ms" x="318.42" y="317.09"/>
<use href="#ms" x="319.53" y="318.1"/>
<use href="#ms" x="320.61" y="319.04"/>
<use href="#ms" x="321.67" y="319.92"/>
<use href="#ms" x="322.7" y="320.74"/>
<use href="#ms" x="323.71" y="321.51"/>
<use href="#ms" x="324.7" y="322.24"/>
<use href="#ms" x="325.67" y="322.92"/>
<use href="#ms" x="326.61" y="323.58"/>
<use href="#ms" x="327.54" y="324.19"/>
<use href="#ms" x="328.45" y="324.78"/>
<use href="#ms" x="329.34" y="325.35"/>
<use href="#ms" x="330.21" y="325.88"/>
<use href="#ms" x="331.07" y="326.39"/>
<use href="#ms" x="331.91" y="326.87"/>
<use href="#ms" x="332.73" y="327.33"/>
<use href="#ms" x="333.54" y="327.76"/>
<use href="#ms" x="334.34" y="328.17"/>
<use href="#ms" x="335.12" y="328.56"/>
<use href="#ms" x="335.89" y="328.92"/>
<use href="#ms" x="336.64" y="329.27"/>
<use href="#ms" x="337.38" y="329.61"/>
<use href="#ms" x="338.11" y="329.93"/>
<use href="#ms" x="338.83" y="330.24"/>
<use href="#ms" x="339.54" y="330.53"/>
<use href="#ms" x="340.24" y="330.81"/>
<use href="#ms" x="340.92" y="331.08"/>
<use href="#ms" x="341.6" y="331.35"/>
<use href="#ms" x="342.26" y="331.6"/>
<use href="#ms" x="342.92" y="331.84"/>
<use href="#ms" x="343.56" y="332.07"/>
<use href="#ms" x="344.2" y="332.3"/>
<use href="#ms" x="344.83" y="332.52"/>
<use href="#ms" x="345.45" y="332.73"/>
<use href="#ms" x="346.06" y="332.94"/>
<use href="#ms" x="346.66" y="333.15"/>
<use href="#ms" x="347.26" y="333.34"/>
<use href="#ms" x="347.84" y="333.53"/>
<use href="#ms" x="348.42" y="333.72"/>
<use href="#ms" x="348.99" y="333.89"/>
<use href="#ms" x="349.56" y="334.06"/>
<use href="#ms" x="350.12" y="334.22"/>
<use href="#ms" x="350.67" y="334.37"/>
<use href="#ms" x="351.21" y="334.51"/>
<use href="#ms" x="351.75" y="334.64"/>
<use href="#ms" x="352.28" y="334.76"/>
<use href="#ms" x="352.8" y="334.88"/>
<use href="#ms" x="353.32" y="335"/>
<use href="#ms" x="353.84" y="335.11"/>
<use href="#ms" x="354.34" y="335.21"/>
<use href="#ms" x="354.84" y="335.32"/>
<use href="#ms" x="355.34" y="335.41"/>
<use href="#ms" x="355.83" y="335.51"/>
<use href="#ms" x="356.32" y="335.6"/>
<use href="#ms" x="356.8" y="335.69"/>
<use href="#ms" x="357.27" y="335.77"/>
<use href="#ms" x="357.74" y="335.86"/>
<use href="#ms" x="358.21" y="335.94"/>
<use href="#ms" x="358.67" y="336.01"/>
<use href="#ms" x="359.12" y="336.09"/>
<use href="#ms" x="359.57" y="336.16"/>
<use href="#ms" x="360.02" y="336.24"/>
<use href="#ms" x="360.46" y="336.31"/>
<use href="#ms" x="360.9" y="336.38"/>
<use href="#ms" x="361.33" y="336.44"/>
<use href="#ms" x="361.76" y="336.51"/>
<use href="#ms" x="362.19" y="336.57"/>
<use href="#ms" x="362.61" y="336.64"/>
<use href="#ms" x="363.02" y="336.7"/>
<use href="#ms" x="363.44" y="336.77"/>
<use href="#ms" x="363.85" y="336.83"/>
<use href="#ms" x="364.25" y="336.89"/>
<use href="#ms" x="364.66" y="336.95"/>
<use href="#ms" x="365.05" y="337.01"/>
<use href="#ms" x="365.45" y="337.07"/>
<use href="#ms" x="365.84" y="337.13"/>
<use href="#ms" x="366.23" y="337.19"/>
<use href="#ms" x="366.61" y="337.24"/>
<use href="#ms" x="367" y="337.3"/>
<use href="#ms" x="367.37" y="337.35"/>
<use href="#ms" x="367.75" y="337.41"/>
<use href="#ms" x="368.12" y="337.46"/>
<use href="#ms" x="368.49" y="337.51"/>
<use href="#ms" x="368.86" y="337.56"/>
<use href="#ms" x="369.22" y="337.61"/>
<use href="#ms" x="369.58" y="337.66"/>
<use href="#ms" x="369.94" y="337.71"/>
<use href="#ms" x="370.29" y="337.76"/>
<use href="#ms" x="370.65" y="337.81"/>
<use href="#ms" x="371.01" y="337.85"/>
<use href="#ms" x="371.36" y="337.9"/>
<use href="#ms" x="371.72" y="337.94"/>
<use href="#ms" x="372.08" y="337.99"/>
<use href="#ms" x="372.43" y="338.03"/>
<use href="#ms" x="372.79" y="338.08"/>
<use href="#ms" x="373.15" y="338.12"/>
<use href="#ms" x="373.51" y="338.16"/>
<use href="#ms" x="373.86" y="338.2"/>
<use href="#ms" x="374.22" y="338.24"/>
<use href="#ms" x="374.58" y="338.28"/>
<use href="#ms" x="374.93" y="338.32"/>
<use href="#ms" x="375.29" y="338.36"/>
<use href="#ms" x="375.65" y="338.4"/>
<use href="#ms" x="376" y="338.43"/>
<use href="#ms" x="376.36" y="338.47"/>
<use href="#ms" x="376.72" y="338.5"/>
<use href="#ms" x="377.07" y="338.53"/>
<use href="#ms" x="377.43" y="338.57"/>
<use href="#ms" x="377.79" y="338.6"/>
<use href="#ms" x="378.14" y="338.63"/>
<use href="#ms" x="378.5" y="338.65"/>
<use href="#ms" x="378.86" y="338.68"/>
<use href="#ms" x="379.21" y="338.71"/>
<use href="#ms" x="379.57" y="338.73"/>
<use href="#ms" x="379.93" y="338.76"/>
<use href="#ms" x="380.28" y="338.79"/>
<use href="#ms" x="380.64" y="338.81"/>
<use href="#ms" x="381" y="338.83"/>
<use href="#ms" x="381.35" y="338.86"/>
<use href="#ms" x="381.71" y="338.88"/>
<use href="#ms" x="382.07" y="338.91"/>
<use href="#ms" x="382.42" y="338.93"/>
<use href="#ms" x="382.78" y="338.95"/>
<use href="#ms" x="383.14" y="338.98"/>
<use href="#ms" x="383.5" y="339"/>
<use href="#ms" x="383.85" y="339.02"/>
<use href="#ms" x="384.21" y="339.04"/>
<use href="#ms" x="384.57" y="339.06"/>
<use href="#ms" x="384.92" y="339.08"/>
<use href="#ms" x="385.28" y="339.1"/>
<use href="#ms" x="385.64" y="339.13"/>
<use href="#ms" x="385.99" y="339.15"/>
<use href="#ms" x="386.35" y="339.17"/>
<use href="#ms" x="386.71" y="339.18"/>
<use href="#ms" x="387.06" y="339.2"/>
<use href="#ms" x="387.42" y="339.22"/>
<use href="#ms" x="387.78" y="339.24"/>
<use href="#ms" x="388.13" y="339.26"/>
<use href="#ms" x="388.49" y="339.28"/>
<use href="#ms" x="388.85" y="339.3"/>
<use href="#ms" x="389.2" y="339.31"/>
<use href="#ms" x="389.56" y="339.33"/>
<use href="#ms" x="389.92" y="339.35"/>
<use href="#ms" x="390.27" y="339.36"/>
<use href="#ms" x="390.63" y="339.38"/>
<use href="#ms" x="390.99" y="339.39"/>
<use href="#ms" x="391.34" y="339.41"/>
<use href="#ms" x="391.7" y="339.43"/>
<use href="#ms" x="392.06" y="339.44"/>
<use href="#ms" x="392.41" y="339.45"/>
<use href="#ms" x="392.77" y="339.47"/>
<use href="#ms" x="393.13" y="339.48"/>
<use href="#ms" x="393.49" y="339.5"/>
<use href="#ms" x="393.84" y="339.51"/>
<use href="#ms" x="394.2" y="339.52"/>
<use href="#ms" x="394.56" y="339.54"/>
<use href="#ms" x="394.91" y="339.55"/>
<use href="#ms" x="395.27" y="339.56"/>
<use href="#ms" x="395.63" y="339.57"/>
<use href="#ms" x="395.98" y="339.58"/>
<use href="#ms" x="396.34" y="339.6"/>
<use href="#ms" x="396.7" y="339.61"/>
<use href="#ms" x="397.05" y="339.62"/>
<use href="#ms" x="397.41" y="339.63"/>
<use href="#ms" x="397.77" y="339.64"/>
<use href="#ms" x="398.12" y="339.65"/>
<use href="#ms" x="398.48" y="339.66"/>
<use href="#ms" x="398.84" y="339.67"/>
<use href="#ms" x="399.19" y="339.68"/>
<use href="#ms" x="399.55" y="339.69"/>
<use href="#ms" x="399.91" y="339.7"/>
<use href="#ms" x="400.26" y="339.71"/>
<use href="#ms" x="400.62" y="339.72"/>
<use href="#ms" x="400.98" y="339.74"/>
<use href="#ms" x="401.33" y="339.75"/>
<use href="#ms" x="401.69" y="339.76"/>
<use href="#ms" x="402.05" y="339.77"/>
<use href="#ms" x="402.4" y="339.78"/>
<use href="#ms" x="402.76" y="339.79"/>
<use href="#ms" x="403.12" y="339.8"/>
<use href="#ms" x="403.47" y="339.81"/>
<use href="#ms" x="403.83" y="339.82"/>
<use href="#ms" x="404.19" y="339.83"/>
<use href="#ms" x="404.55" y="339.84"/>
<use href="#ms" x="404.9" y="339.85"/>
<use href="#ms" x="405.26" y="339.85"/>
<use href="#ms" x="405.62" y="339.86"/>
<use href="#ms" x="405.97" y="339.87"/>
<use href="#ms" x="406.33" y="339.88"/>
<use href="#ms" x="406.69" y="339.89"/>
<use href="#ms" x="407.04" y="339.9"/>
<use href="#ms" x="407.4" y="339.91"/>
<use href="#ms" x="407.76" y="339.92"/>
<use href="#ms" x="408.11" y="339.93"/>
<use href="#ms" x="408.47" y="339.93"/>
<use href="#ms" x="408.83" y="339.94"/>
<use href="#ms" x="409.18" y="339.95"/>
<use href="#ms" x="409.54" y="339.96"/>
<use href="#ms" x="409.9" y="339.97"/>
<use href="#ms" x="410.25" y="339.97"/>
<use href="#ms" x="410.61" y="339.98"/>
<use href="#ms" x="410.97" y="339.99"/>
<use href="#ms" x="411.32" y="340"/>
<use href="#ms" x="411.68" y="340"/>
<use href="#ms" x="412.04" y="340.01"/>
<use href="#ms" x="412.39" y="340.01"/>
<use href="#ms" x="412.75" y="340.02"/>
<use href="#ms" x="413.11" y="340.03"/>
<use href="#ms" x="413.46" y="340.03"/>
<use href="#ms" x="413.82" y="340.04"/>
<use href="#ms" x="414.18" y="340.04"/>
<use href="#ms" x="414.54" y="340.05"/>
<use href="#ms" x="414.89" y="340.05"/>
<use href="#ms" x="415.25" y="340.06"/>
<use href="#ms" x="415.61" y="340.06"/>
<use href="#ms" x="415.96" y="340.07"/>
<use href="#ms" x="416.32" y="340.07"/>
<use href="#ms" x="416.68" y="340.08"/>
<use href="#ms" x="417.03" y="340.08"/>
<polyline points="295.5,228.4 295.5,228.4 296.54,228.71 297.58,230.28 298.61,234.9 299.65,238.82 300.69,242.39 301.73,245.95 302.76,249.61 303.8,253.41 304.84,257.19 305.88,260.78 306.92,264.2 307.95,267.51 308.99,270.75 310.03,273.92 311.07,277.05 312.11,280.1 313.14,283.03 314.18,285.83 315.22,288.59 316.26,291.23 317.29,293.68 318.33,295.86 319.37,297.87 320.41,299.78 321.45,301.6 322.48,303.32 323.52,304.95 324.56,306.5 325.6,307.98 326.63,309.38 327.67,310.72 328.71,312.01 329.75,313.24 330.79,314.42 331.82,315.53 332.86,316.6 333.9,317.6 334.94,318.54 335.97,319.44 337.01,320.29 338.05,321.1 339.09,321.87 340.13,322.61 341.16,323.33 342.2,324.02 343.24,324.69 344.28,325.35 345.32,325.99 346.35,326.6 347.39,327.2 348.43,327.78 349.47,328.33 350.5,328.87 351.54,329.38 352.58,329.87 353.62,330.36 354.66,330.83 355.69,331.28 356.73,331.73 357.77,332.15 358.81,332.56 359.84,332.95 360.88,333.32 361.92,333.67 362.96,334.01 364,334.33 365.03,334.64 366.07,334.94 367.11,335.22 368.15,335.48 369.18,335.72 370.22,335.95 371.26,336.15 372.3,336.35 373.34,336.54 374.37,336.72 375.41,336.89 376.45,337.05 377.49,337.2 378.53,337.33 379.56,337.45 380.6,337.57 381.64,337.69 382.68,337.8 383.71,337.91 384.75,338.02 385.79,338.12 386.83,338.22 387.87,338.31 388.9,338.4 389.94,338.48 390.98,338.56 392.02,338.64 393.05,338.71 394.09,338.77 395.13,338.83 396.17,338.88 397.21,338.93 398.24,338.98 399.28,339.03 400.32,339.08 401.36,339.12 402.39,339.17 403.43,339.21 404.47,339.26 405.51,339.3 406.55,339.34 407.58,339.38 408.62,339.41 409.66,339.44 410.7,339.47 411.74,339.5 412.77,339.53 413.81,339.55 414.85,339.57 415.89,339.58 416.92,339.59 417.96,339.6 419,339.6" fill="none" stroke="#000" stroke-width="2.2" stroke-linejoin="round" stroke-linecap="round" />
<circle cx="372.4" cy="238.5" r="3.2" fill="none" stroke="#f2865c" stroke-width="1"/>
<path d="M372.4,247.2L376.8,251.6L372.4,256L368,251.6Z" fill="none" stroke="#40b58c" stroke-width="1"/>
<rect x="369.5" y="262.1" width="5.8" height="5.8" fill="none" stroke="#8494d0" stroke-width="1"/>
<text x="380.6" y="242.4" font-size="10.7" text-anchor="start" fill="#1a1a1a" >10 nm</text>
<text x="380.6" y="255.5" font-size="10.7" text-anchor="start" fill="#1a1a1a" >23 nm</text>
<text x="380.6" y="268.9" font-size="10.7" text-anchor="start" fill="#1a1a1a" >29 nm</text>
<line x1="364.4" y1="278.8" x2="379.9" y2="278.8" stroke="#000" stroke-width="2" />
<text x="384.6" y="282.7" font-size="10.7" text-anchor="start" fill="#1a1a1a" >DFT</text>
<defs><linearGradient id="rb1" x1="500.6" x2="582.6" y1="0" y2="0" gradientUnits="userSpaceOnUse"><stop offset="0.0" stop-color="#ffffff"/><stop offset="0.018" stop-color="#ffc4c4"/><stop offset="0.049" stop-color="#ff8888"/><stop offset="0.099" stop-color="#ff8282"/><stop offset="0.129" stop-color="#ffa080"/><stop offset="0.178" stop-color="#ffc078"/><stop offset="0.233" stop-color="#fff080"/><stop offset="0.284" stop-color="#f8f880"/><stop offset="0.318" stop-color="#d0f080"/><stop offset="0.355" stop-color="#a4e890"/><stop offset="0.398" stop-color="#88dc98"/><stop offset="0.446" stop-color="#80d8b0"/><stop offset="0.489" stop-color="#80e0cc"/><stop offset="0.505" stop-color="#88d8f4"/><stop offset="0.52" stop-color="#88d0f8"/><stop offset="0.535" stop-color="#88c0ec"/><stop offset="0.562" stop-color="#88a8e0"/><stop offset="0.605" stop-color="#8090d0"/><stop offset="0.641" stop-color="#8488c4"/><stop offset="0.678" stop-color="#9884d4"/><stop offset="0.727" stop-color="#a880e4"/><stop offset="0.788" stop-color="#b080f0"/><stop offset="0.946" stop-color="#b888f0"/><stop offset="0.977" stop-color="#d8c0f8"/><stop offset="1.0" stop-color="#ffffff"/></linearGradient></defs>
<rect x="500.6" y="30.5" width="82" height="133.8" fill="url(#rb1)"/>
<rect x="475" y="30.5" width="207.6" height="133.8" fill="none" stroke="#3a3a3a" stroke-width="1.1"/>
<line x1="483.3" y1="30.5" x2="483.3" y2="34.5" stroke="#333" stroke-width="0.65" />
<line x1="520.63" y1="30.5" x2="520.63" y2="34.5" stroke="#333" stroke-width="0.65" />
<line x1="573.25" y1="30.5" x2="573.25" y2="34.5" stroke="#333" stroke-width="0.65" />
<line x1="610.58" y1="30.5" x2="610.58" y2="34.5" stroke="#333" stroke-width="0.65" />
<line x1="639.54" y1="30.5" x2="639.54" y2="34.5" stroke="#333" stroke-width="0.65" />
<line x1="663.2" y1="30.5" x2="663.2" y2="34.5" stroke="#333" stroke-width="0.65" />
<line x1="487.54" y1="164.3" x2="487.54" y2="160.3" stroke="#333" stroke-width="0.65" />
<line x1="504.87" y1="164.3" x2="504.87" y2="160.3" stroke="#333" stroke-width="0.65" />
<line x1="524.87" y1="164.3" x2="524.87" y2="160.3" stroke="#333" stroke-width="0.65" />
<line x1="548.53" y1="164.3" x2="548.53" y2="160.3" stroke="#333" stroke-width="0.65" />
<line x1="577.49" y1="164.3" x2="577.49" y2="160.3" stroke="#333" stroke-width="0.65" />
<line x1="614.82" y1="164.3" x2="614.82" y2="160.3" stroke="#333" stroke-width="0.65" />
<line x1="667.43" y1="164.3" x2="667.43" y2="160.3" stroke="#333" stroke-width="0.65" />
<line x1="475" y1="152.4" x2="479" y2="152.4" stroke="#333" stroke-width="0.65" />
<line x1="682.6" y1="152.4" x2="678.6" y2="152.4" stroke="#333" stroke-width="0.65" />
<line x1="475" y1="137.1" x2="479" y2="137.1" stroke="#333" stroke-width="0.65" />
<line x1="682.6" y1="137.1" x2="678.6" y2="137.1" stroke="#333" stroke-width="0.65" />
<line x1="475" y1="121.8" x2="479" y2="121.8" stroke="#333" stroke-width="0.65" />
<line x1="682.6" y1="121.8" x2="678.6" y2="121.8" stroke="#333" stroke-width="0.65" />
<line x1="475" y1="106.5" x2="479" y2="106.5" stroke="#333" stroke-width="0.65" />
<line x1="682.6" y1="106.5" x2="678.6" y2="106.5" stroke="#333" stroke-width="0.65" />
<line x1="475" y1="91.2" x2="479" y2="91.2" stroke="#333" stroke-width="0.65" />
<line x1="682.6" y1="91.2" x2="678.6" y2="91.2" stroke="#333" stroke-width="0.65" />
<line x1="475" y1="75.9" x2="479" y2="75.9" stroke="#333" stroke-width="0.65" />
<line x1="682.6" y1="75.9" x2="678.6" y2="75.9" stroke="#333" stroke-width="0.65" />
<line x1="475" y1="60.6" x2="479" y2="60.6" stroke="#333" stroke-width="0.65" />
<line x1="682.6" y1="60.6" x2="678.6" y2="60.6" stroke="#333" stroke-width="0.65" />
<line x1="475" y1="45.3" x2="479" y2="45.3" stroke="#333" stroke-width="0.65" />
<line x1="682.6" y1="45.3" x2="678.6" y2="45.3" stroke="#333" stroke-width="0.65" />
<text x="467.4" y="157.24" font-size="11" text-anchor="end" fill="#1a1a1a" >-6</text>
<text x="467.4" y="141.94" font-size="11" text-anchor="end" fill="#1a1a1a" >-4</text>
<text x="467.4" y="126.64" font-size="11" text-anchor="end" fill="#1a1a1a" >-2</text>
<text x="467.4" y="111.34" font-size="11" text-anchor="end" fill="#1a1a1a" >0</text>
<text x="467.4" y="96.04" font-size="11" text-anchor="end" fill="#1a1a1a" >2</text>
<text x="467.4" y="80.74" font-size="11" text-anchor="end" fill="#1a1a1a" >4</text>
<text x="467.4" y="65.44" font-size="11" text-anchor="end" fill="#1a1a1a" >6</text>
<text x="467.4" y="50.14" font-size="11" text-anchor="end" fill="#1a1a1a" >8</text>
<text x="483.3" y="29.04" font-size="11" text-anchor="middle" fill="#1a1a1a" >1.5</text>
<text x="520.63" y="29.04" font-size="11" text-anchor="middle" fill="#1a1a1a" >2.0</text>
<text x="573.25" y="29.04" font-size="11" text-anchor="middle" fill="#1a1a1a" >3.0</text>
<text x="610.58" y="29.04" font-size="11" text-anchor="middle" fill="#1a1a1a" >4.0</text>
<text x="639.54" y="29.04" font-size="11" text-anchor="middle" fill="#1a1a1a" >5</text>
<text x="663.2" y="29.04" font-size="11" text-anchor="middle" fill="#1a1a1a" >6</text>
<text x="683.2" y="29.04" font-size="11" text-anchor="middle" fill="#1a1a1a" >7</text>
<text x="487.54" y="176.84" font-size="11" text-anchor="middle" fill="#1a1a1a" >800</text>
<text x="524.87" y="176.84" font-size="11" text-anchor="middle" fill="#1a1a1a" >600</text>
<text x="548.53" y="176.84" font-size="11" text-anchor="middle" fill="#1a1a1a" >500</text>
<text x="577.49" y="176.84" font-size="11" text-anchor="middle" fill="#1a1a1a" >400</text>
<text x="614.82" y="176.84" font-size="11" text-anchor="middle" fill="#1a1a1a" >300</text>
<text x="667.43" y="176.84" font-size="11" text-anchor="middle" fill="#1a1a1a" >200</text>
<text x="570.5" y="11.2" font-size="12" text-anchor="middle" fill="#1a1a1a" >energy (eV)</text>
<text x="570.7" y="194.6" font-size="12" text-anchor="middle" fill="#1a1a1a" >wavelength (nm)</text>
<g transform="translate(448.6 106.5) rotate(-90)" fill="#1a1a1a">
<text x="0" y="0" font-size="14.5">ε</text>
<text x="6.6" y="3.1" font-size="11">1</text>
</g>
<use href="#mc" x="483.55" y="121.56"/>
<use href="#mc" x="484.33" y="121.24"/>
<use href="#mc" x="485.13" y="120.91"/>
<use href="#mc" x="485.93" y="120.59"/>
<use href="#mc" x="486.73" y="120.26"/>
<use href="#mc" x="487.54" y="119.93"/>
<use href="#mc" x="488.35" y="119.59"/>
<use href="#mc" x="489.17" y="119.26"/>
<use href="#mc" x="489.99" y="118.92"/>
<use href="#mc" x="490.82" y="118.58"/>
<use href="#mc" x="491.66" y="118.23"/>
<use href="#mc" x="492.5" y="117.89"/>
<use href="#mc" x="493.34" y="117.54"/>
<use href="#mc" x="494.19" y="117.19"/>
<use href="#mc" x="495.05" y="116.84"/>
<use href="#mc" x="495.91" y="116.48"/>
<use href="#mc" x="496.78" y="116.12"/>
<use href="#mc" x="497.66" y="115.76"/>
<use href="#mc" x="498.53" y="115.39"/>
<use href="#mc" x="499.42" y="115.03"/>
<use href="#mc" x="500.31" y="114.66"/>
<use href="#mc" x="501.21" y="114.28"/>
<use href="#mc" x="502.11" y="113.91"/>
<use href="#mc" x="503.03" y="113.53"/>
<use href="#mc" x="503.94" y="113.15"/>
<use href="#mc" x="504.87" y="112.77"/>
<use href="#mc" x="505.8" y="112.38"/>
<use href="#mc" x="506.73" y="111.99"/>
<use href="#mc" x="507.68" y="111.6"/>
<use href="#mc" x="508.63" y="111.2"/>
<use href="#mc" x="509.59" y="110.8"/>
<use href="#mc" x="510.55" y="110.4"/>
<use href="#mc" x="511.52" y="109.99"/>
<use href="#mc" x="512.5" y="109.58"/>
<use href="#mc" x="513.49" y="109.16"/>
<use href="#mc" x="514.48" y="108.74"/>
<use href="#mc" x="515.49" y="108.31"/>
<use href="#mc" x="516.5" y="107.88"/>
<use href="#mc" x="517.51" y="107.44"/>
<use href="#mc" x="518.54" y="107"/>
<use href="#mc" x="519.57" y="106.55"/>
<use href="#mc" x="520.61" y="106.09"/>
<use href="#mc" x="521.67" y="105.61"/>
<use href="#mc" x="522.73" y="105.12"/>
<use href="#mc" x="523.79" y="104.63"/>
<use href="#mc" x="524.87" y="104.12"/>
<use href="#mc" x="525.96" y="103.61"/>
<use href="#mc" x="527.05" y="103.09"/>
<use href="#mc" x="528.16" y="102.57"/>
<use href="#mc" x="529.27" y="102.05"/>
<use href="#mc" x="530.39" y="101.53"/>
<use href="#mc" x="531.53" y="101.01"/>
<use href="#mc" x="532.67" y="100.5"/>
<use href="#mc" x="533.82" y="99.99"/>
<use href="#mc" x="534.99" y="99.5"/>
<use href="#mc" x="536.16" y="99.01"/>
<use href="#mc" x="537.35" y="98.55"/>
<use href="#mc" x="538.54" y="98.1"/>
<use href="#mc" x="539.75" y="97.66"/>
<use href="#mc" x="540.97" y="97.24"/>
<use href="#mc" x="542.2" y="96.82"/>
<use href="#mc" x="543.44" y="96.41"/>
<use href="#mc" x="544.69" y="96"/>
<use href="#mc" x="545.96" y="95.6"/>
<use href="#mc" x="547.24" y="95.21"/>
<use href="#mc" x="548.53" y="94.81"/>
<use href="#mc" x="549.83" y="94.42"/>
<use href="#mc" x="551.15" y="94.03"/>
<use href="#mc" x="552.48" y="93.63"/>
<use href="#mc" x="553.83" y="93.22"/>
<use href="#mc" x="555.19" y="92.81"/>
<use href="#mc" x="556.56" y="92.39"/>
<use href="#mc" x="557.95" y="91.96"/>
<use href="#mc" x="559.35" y="91.51"/>
<use href="#mc" x="560.77" y="91.05"/>
<use href="#mc" x="562.2" y="90.58"/>
<use href="#mc" x="563.65" y="90.11"/>
<use href="#mc" x="565.12" y="89.64"/>
<use href="#mc" x="566.6" y="89.17"/>
<use href="#mc" x="568.1" y="88.68"/>
<use href="#mc" x="569.62" y="88.2"/>
<use href="#mc" x="571.15" y="87.7"/>
<use href="#mc" x="572.71" y="87.2"/>
<use href="#mc" x="574.28" y="86.69"/>
<use href="#mc" x="575.87" y="86.17"/>
<use href="#mc" x="577.49" y="85.64"/>
<use href="#mc" x="579.12" y="85.09"/>
<use href="#mc" x="580.77" y="84.53"/>
<use href="#mc" x="582.45" y="83.96"/>
<use href="#mc" x="584.14" y="83.37"/>
<use href="#mc" x="585.86" y="82.77"/>
<use href="#mc" x="587.6" y="82.14"/>
<use href="#mc" x="589.37" y="81.49"/>
<use href="#mc" x="591.16" y="80.82"/>
<use href="#mc" x="592.97" y="80.12"/>
<use href="#mc" x="594.81" y="79.4"/>
<use href="#mc" x="596.68" y="78.65"/>
<use href="#mc" x="598.58" y="77.87"/>
<use href="#mc" x="600.5" y="77.04"/>
<use href="#mc" x="602.45" y="76.17"/>
<use href="#mc" x="604.43" y="75.26"/>
<use href="#mc" x="606.44" y="74.28"/>
<use href="#mc" x="608.49" y="73.24"/>
<use href="#mc" x="610.56" y="72.12"/>
<use href="#mc" x="612.67" y="70.94"/>
<use href="#mc" x="614.82" y="69.69"/>
<use href="#mc" x="617" y="68.37"/>
<use href="#mc" x="619.22" y="66.99"/>
<use href="#mc" x="621.47" y="65.56"/>
<use href="#mc" x="623.77" y="64.05"/>
<use href="#mc" x="626.11" y="62.44"/>
<use href="#mc" x="628.49" y="60.68"/>
<use href="#mc" x="630.92" y="58.71"/>
<use href="#mc" x="633.39" y="56.29"/>
<use href="#mc" x="635.91" y="54.07"/>
<use href="#mc" x="638.48" y="52.16"/>
<use href="#mc" x="641.1" y="51.1"/>
<use href="#mc" x="643.77" y="52.1"/>
<use href="#mc" x="646.51" y="54.61"/>
<use href="#mc" x="649.3" y="58.55"/>
<use href="#mc" x="652.15" y="66.31"/>
<use href="#mc" x="655.07" y="72.71"/>
<use href="#mc" x="658.05" y="77.32"/>
<use href="#mc" x="661.1" y="81.37"/>
<use href="#mc" x="664.23" y="84.96"/>
<use href="#mc" x="667.43" y="91.07"/>
<use href="#mc" x="670.72" y="93.35"/>
<use href="#mc" x="674.09" y="94.52"/>
<use href="#md" x="483.55" y="128.47"/>
<use href="#md" x="484.33" y="128.12"/>
<use href="#md" x="485.13" y="127.77"/>
<use href="#md" x="485.93" y="127.42"/>
<use href="#md" x="486.73" y="127.07"/>
<use href="#md" x="487.54" y="126.71"/>
<use href="#md" x="488.35" y="126.35"/>
<use href="#md" x="489.17" y="125.98"/>
<use href="#md" x="489.99" y="125.61"/>
<use href="#md" x="490.82" y="125.24"/>
<use href="#md" x="491.66" y="124.87"/>
<use href="#md" x="492.5" y="124.49"/>
<use href="#md" x="493.34" y="124.1"/>
<use href="#md" x="494.19" y="123.71"/>
<use href="#md" x="495.05" y="123.32"/>
<use href="#md" x="495.91" y="122.93"/>
<use href="#md" x="496.78" y="122.53"/>
<use href="#md" x="497.66" y="122.12"/>
<use href="#md" x="498.53" y="121.72"/>
<use href="#md" x="499.42" y="121.3"/>
<use href="#md" x="500.31" y="120.89"/>
<use href="#md" x="501.21" y="120.47"/>
<use href="#md" x="502.11" y="120.04"/>
<use href="#md" x="503.03" y="119.61"/>
<use href="#md" x="503.94" y="119.18"/>
<use href="#md" x="504.87" y="118.74"/>
<use href="#md" x="505.8" y="118.29"/>
<use href="#md" x="506.73" y="117.84"/>
<use href="#md" x="507.68" y="117.39"/>
<use href="#md" x="508.63" y="116.93"/>
<use href="#md" x="509.59" y="116.46"/>
<use href="#md" x="510.55" y="116"/>
<use href="#md" x="511.52" y="115.52"/>
<use href="#md" x="512.5" y="115.04"/>
<use href="#md" x="513.49" y="114.55"/>
<use href="#md" x="514.48" y="114.06"/>
<use href="#md" x="515.49" y="113.56"/>
<use href="#md" x="516.5" y="113.06"/>
<use href="#md" x="517.51" y="112.55"/>
<use href="#md" x="518.54" y="112.03"/>
<use href="#md" x="519.57" y="111.51"/>
<use href="#md" x="520.61" y="110.97"/>
<use href="#md" x="521.67" y="110.41"/>
<use href="#md" x="522.73" y="109.83"/>
<use href="#md" x="523.79" y="109.24"/>
<use href="#md" x="524.87" y="108.64"/>
<use href="#md" x="525.96" y="108.04"/>
<use href="#md" x="527.05" y="107.42"/>
<use href="#md" x="528.16" y="106.8"/>
<use href="#md" x="529.27" y="106.18"/>
<use href="#md" x="530.39" y="105.57"/>
<use href="#md" x="531.53" y="104.96"/>
<use href="#md" x="532.67" y="104.35"/>
<use href="#md" x="533.82" y="103.76"/>
<use href="#md" x="534.99" y="103.18"/>
<use href="#md" x="536.16" y="102.62"/>
<use href="#md" x="537.35" y="102.08"/>
<use href="#md" x="538.54" y="101.57"/>
<use href="#md" x="539.75" y="101.07"/>
<use href="#md" x="540.97" y="100.59"/>
<use href="#md" x="542.2" y="100.11"/>
<use href="#md" x="543.44" y="99.64"/>
<use href="#md" x="544.69" y="99.18"/>
<use href="#md" x="545.96" y="98.73"/>
<use href="#md" x="547.24" y="98.28"/>
<use href="#md" x="548.53" y="97.84"/>
<use href="#md" x="549.83" y="97.4"/>
<use href="#md" x="551.15" y="96.96"/>
<use href="#md" x="552.48" y="96.51"/>
<use href="#md" x="553.83" y="96.07"/>
<use href="#md" x="555.19" y="95.62"/>
<use href="#md" x="556.56" y="95.16"/>
<use href="#md" x="557.95" y="94.7"/>
<use href="#md" x="559.35" y="94.22"/>
<use href="#md" x="560.77" y="93.74"/>
<use href="#md" x="562.2" y="93.25"/>
<use href="#md" x="563.65" y="92.76"/>
<use href="#md" x="565.12" y="92.28"/>
<use href="#md" x="566.6" y="91.79"/>
<use href="#md" x="568.1" y="91.31"/>
<use href="#md" x="569.62" y="90.82"/>
<use href="#md" x="571.15" y="90.32"/>
<use href="#md" x="572.71" y="89.83"/>
<use href="#md" x="574.28" y="89.32"/>
<use href="#md" x="575.87" y="88.81"/>
<use href="#md" x="577.49" y="88.29"/>
<use href="#md" x="579.12" y="87.76"/>
<use href="#md" x="580.77" y="87.22"/>
<use href="#md" x="582.45" y="86.67"/>
<use href="#md" x="584.14" y="86.1"/>
<use href="#md" x="585.86" y="85.51"/>
<use href="#md" x="587.6" y="84.9"/>
<use href="#md" x="589.37" y="84.27"/>
<use href="#md" x="591.16" y="83.61"/>
<use href="#md" x="592.97" y="82.93"/>
<use href="#md" x="594.81" y="82.24"/>
<use href="#md" x="596.68" y="81.52"/>
<use href="#md" x="598.58" y="80.78"/>
<use href="#md" x="600.5" y="79.99"/>
<use href="#md" x="602.45" y="79.15"/>
<use href="#md" x="604.43" y="78.25"/>
<use href="#md" x="606.44" y="77.28"/>
<use href="#md" x="608.49" y="76.21"/>
<use href="#md" x="610.56" y="75.04"/>
<use href="#md" x="612.67" y="73.77"/>
<use href="#md" x="614.82" y="72.42"/>
<use href="#md" x="617" y="71.01"/>
<use href="#md" x="619.22" y="69.53"/>
<use href="#md" x="621.47" y="68"/>
<use href="#md" x="623.77" y="66.39"/>
<use href="#md" x="626.11" y="64.66"/>
<use href="#md" x="628.49" y="62.77"/>
<use href="#md" x="630.92" y="60.68"/>
<use href="#md" x="633.39" y="58.27"/>
<use href="#md" x="635.91" y="55.6"/>
<use href="#md" x="638.48" y="52.53"/>
<use href="#md" x="641.1" y="52.3"/>
<use href="#md" x="643.77" y="52.94"/>
<use href="#md" x="646.51" y="54.43"/>
<use href="#md" x="649.3" y="57.84"/>
<use href="#md" x="652.15" y="63.63"/>
<use href="#md" x="655.07" y="76.85"/>
<use href="#md" x="658.05" y="84.07"/>
<use href="#md" x="661.1" y="90.55"/>
<use href="#md" x="664.23" y="94.5"/>
<use href="#md" x="667.43" y="95.84"/>
<use href="#md" x="670.72" y="96.59"/>
<use href="#md" x="674.09" y="97"/>
<use href="#mp" x="483.55" y="124.27"/>
<use href="#mp" x="484.33" y="123.93"/>
<use href="#mp" x="485.13" y="123.58"/>
<use href="#mp" x="485.93" y="123.24"/>
<use href="#mp" x="486.73" y="122.89"/>
<use href="#mp" x="487.54" y="122.54"/>
<use href="#mp" x="488.35" y="122.18"/>
<use href="#mp" x="489.17" y="121.82"/>
<use href="#mp" x="489.99" y="121.46"/>
<use href="#mp" x="490.82" y="121.1"/>
<use href="#mp" x="491.66" y="120.74"/>
<use href="#mp" x="492.5" y="120.37"/>
<use href="#mp" x="493.34" y="120"/>
<use href="#mp" x="494.19" y="119.62"/>
<use href="#mp" x="495.05" y="119.25"/>
<use href="#mp" x="495.91" y="118.87"/>
<use href="#mp" x="496.78" y="118.48"/>
<use href="#mp" x="497.66" y="118.1"/>
<use href="#mp" x="498.53" y="117.71"/>
<use href="#mp" x="499.42" y="117.31"/>
<use href="#mp" x="500.31" y="116.92"/>
<use href="#mp" x="501.21" y="116.52"/>
<use href="#mp" x="502.11" y="116.13"/>
<use href="#mp" x="503.03" y="115.73"/>
<use href="#mp" x="503.94" y="115.33"/>
<use href="#mp" x="504.87" y="114.92"/>
<use href="#mp" x="505.8" y="114.52"/>
<use href="#mp" x="506.73" y="114.1"/>
<use href="#mp" x="507.68" y="113.69"/>
<use href="#mp" x="508.63" y="113.27"/>
<use href="#mp" x="509.59" y="112.85"/>
<use href="#mp" x="510.55" y="112.42"/>
<use href="#mp" x="511.52" y="111.98"/>
<use href="#mp" x="512.5" y="111.54"/>
<use href="#mp" x="513.49" y="111.09"/>
<use href="#mp" x="514.48" y="110.63"/>
<use href="#mp" x="515.49" y="110.17"/>
<use href="#mp" x="516.5" y="109.7"/>
<use href="#mp" x="517.51" y="109.22"/>
<use href="#mp" x="518.54" y="108.72"/>
<use href="#mp" x="519.57" y="108.22"/>
<use href="#mp" x="520.61" y="107.7"/>
<use href="#mp" x="521.67" y="107.15"/>
<use href="#mp" x="522.73" y="106.59"/>
<use href="#mp" x="523.79" y="106.02"/>
<use href="#mp" x="524.87" y="105.43"/>
<use href="#mp" x="525.96" y="104.83"/>
<use href="#mp" x="527.05" y="104.22"/>
<use href="#mp" x="528.16" y="103.6"/>
<use href="#mp" x="529.27" y="102.98"/>
<use href="#mp" x="530.39" y="102.36"/>
<use href="#mp" x="531.53" y="101.74"/>
<use href="#mp" x="532.67" y="101.13"/>
<use href="#mp" x="533.82" y="100.53"/>
<use href="#mp" x="534.99" y="99.93"/>
<use href="#mp" x="536.16" y="99.36"/>
<use href="#mp" x="537.35" y="98.8"/>
<use href="#mp" x="538.54" y="98.26"/>
<use href="#mp" x="539.75" y="97.73"/>
<use href="#mp" x="540.97" y="97.22"/>
<use href="#mp" x="542.2" y="96.71"/>
<use href="#mp" x="543.44" y="96.21"/>
<use href="#mp" x="544.69" y="95.72"/>
<use href="#mp" x="545.96" y="95.23"/>
<use href="#mp" x="547.24" y="94.74"/>
<use href="#mp" x="548.53" y="94.26"/>
<use href="#mp" x="549.83" y="93.77"/>
<use href="#mp" x="551.15" y="93.29"/>
<use href="#mp" x="552.48" y="92.8"/>
<use href="#mp" x="553.83" y="92.31"/>
<use href="#mp" x="555.19" y="91.81"/>
<use href="#mp" x="556.56" y="91.3"/>
<use href="#mp" x="557.95" y="90.78"/>
<use href="#mp" x="559.35" y="90.25"/>
<use href="#mp" x="560.77" y="89.7"/>
<use href="#mp" x="562.2" y="89.16"/>
<use href="#mp" x="563.65" y="88.6"/>
<use href="#mp" x="565.12" y="88.05"/>
<use href="#mp" x="566.6" y="87.49"/>
<use href="#mp" x="568.1" y="86.93"/>
<use href="#mp" x="569.62" y="86.36"/>
<use href="#mp" x="571.15" y="85.79"/>
<use href="#mp" x="572.71" y="85.2"/>
<use href="#mp" x="574.28" y="84.62"/>
<use href="#mp" x="575.87" y="84.02"/>
<use href="#mp" x="577.49" y="83.41"/>
<use href="#mp" x="579.12" y="82.79"/>
<use href="#mp" x="580.77" y="82.16"/>
<use href="#mp" x="582.45" y="81.52"/>
<use href="#mp" x="584.14" y="80.86"/>
<use href="#mp" x="585.86" y="80.18"/>
<use href="#mp" x="587.6" y="79.49"/>
<use href="#mp" x="589.37" y="78.78"/>
<use href="#mp" x="591.16" y="78.05"/>
<use href="#mp" x="592.97" y="77.29"/>
<use href="#mp" x="594.81" y="76.52"/>
<use href="#mp" x="596.68" y="75.71"/>
<use href="#mp" x="598.58" y="74.88"/>
<use href="#mp" x="600.5" y="74.03"/>
<use href="#mp" x="602.45" y="73.14"/>
<use href="#mp" x="604.43" y="72.23"/>
<use href="#mp" x="606.44" y="71.29"/>
<use href="#mp" x="608.49" y="70.31"/>
<use href="#mp" x="610.56" y="69.28"/>
<use href="#mp" x="612.67" y="68.22"/>
<use href="#mp" x="614.82" y="67.13"/>
<use href="#mp" x="617" y="66.02"/>
<use href="#mp" x="619.22" y="64.89"/>
<use href="#mp" x="621.47" y="63.8"/>
<use href="#mp" x="623.77" y="62.8"/>
<use href="#mp" x="626.11" y="61.74"/>
<use href="#mp" x="628.49" y="60.48"/>
<use href="#mp" x="630.92" y="58.75"/>
<use href="#mp" x="633.39" y="56.05"/>
<use href="#mp" x="635.91" y="53.1"/>
<use href="#mp" x="638.48" y="50.01"/>
<use href="#mp" x="641.1" y="47.76"/>
<use href="#mp" x="643.77" y="46.92"/>
<use href="#mp" x="646.51" y="47.08"/>
<use href="#mp" x="649.3" y="48.66"/>
<use href="#mp" x="652.15" y="52.55"/>
<use href="#mp" x="655.07" y="59.71"/>
<use href="#mp" x="658.05" y="68.94"/>
<use href="#mp" x="661.1" y="77.82"/>
<use href="#mp" x="664.23" y="84.39"/>
<use href="#mp" x="667.43" y="89.1"/>
<use href="#mp" x="670.72" y="92.76"/>
<use href="#mp" x="674.09" y="95.56"/>
<line x1="483.3" y1="106.5" x2="673.58" y2="106.5" stroke="#333" stroke-width="0.8" />
<polyline points="483.8,156.1 484.59,154.94 485.38,153.8 486.17,152.69 486.95,151.61 487.74,150.56 488.53,149.53 489.32,148.53 490.11,147.56 490.9,146.62 491.69,145.71 492.48,144.85 493.26,144.02 494.05,143.21 494.84,142.41 495.63,141.61 496.42,140.79 497.21,139.95 498,139.1 498.79,138.25 499.57,137.4 500.36,136.55 501.15,135.7 501.94,134.85 502.73,134.02 503.52,133.19 504.31,132.38 505.09,131.56 505.88,130.75 506.67,129.95 507.46,129.15 508.25,128.35 509.04,127.57 509.83,126.8 510.62,126.03 511.4,125.28 512.19,124.55 512.98,123.82 513.77,123.11 514.56,122.41 515.35,121.71 516.14,121.02 516.93,120.34 517.71,119.66 518.5,118.98 519.29,118.31 520.08,117.63 520.87,116.96 521.66,116.29 522.45,115.63 523.24,114.98 524.02,114.32 524.81,113.67 525.6,113.02 526.39,112.37 527.18,111.72 527.97,111.06 528.76,110.4 529.54,109.73 530.33,109.05 531.12,108.37 531.91,107.7 532.7,107.03 533.49,106.38 534.28,105.73 535.07,105.11 535.85,104.51 536.64,103.94 537.43,103.41 538.22,102.89 539.01,102.35 539.8,101.77 540.59,101.14 541.38,100.47 542.16,99.82 542.95,99.23 543.74,98.69 544.53,98.17 545.32,97.69 546.11,97.27 546.9,96.94 547.68,96.63 548.47,96.36 549.26,96.14 550.05,95.99 550.84,95.89 551.63,95.8 552.42,95.74 553.21,95.7 553.99,95.71 554.78,95.76 555.57,95.84 556.36,95.93 557.15,96.02 557.94,96.12 558.73,96.24 559.52,96.34 560.3,96.4 561.09,96.38 561.88,96.32 562.67,96.21 563.46,96.09 564.25,95.96 565.04,95.78 565.83,95.57 566.61,95.31 567.4,95.04 568.19,94.71 568.98,94.31 569.77,93.87 570.56,93.43 571.35,93.03 572.13,92.65 572.92,92.27 573.71,91.89 574.5,91.5 575.29,91.1 576.08,90.7 576.87,90.29 577.66,89.88 578.44,89.46 579.23,89.04 580.02,88.6 580.81,88.16 581.6,87.72 582.39,87.28 583.18,86.84 583.97,86.42 584.75,86.01 585.54,85.62 586.33,85.25 587.12,84.89 587.91,84.54 588.7,84.2 589.49,83.87 590.27,83.55 591.06,83.23 591.85,82.91 592.64,82.6 593.43,82.3 594.22,81.99 595.01,81.69 595.8,81.38 596.58,81.08 597.37,80.79 598.16,80.51 598.95,80.22 599.74,79.91 600.53,79.57 601.32,79.2 602.11,78.8 602.89,78.4 603.68,77.98 604.47,77.57 605.26,77.17 606.05,76.78 606.84,76.4 607.63,76.01 608.42,75.63 609.2,75.23 609.99,74.82 610.78,74.39 611.57,73.96 612.36,73.51 613.15,73.05 613.94,72.57 614.72,72.08 615.51,71.56 616.3,71.02 617.09,70.46 617.88,69.88 618.67,69.27 619.46,68.62 620.25,67.92 621.03,67.17 621.82,66.33 622.61,65.4 623.4,64.38 624.19,63.27 624.98,61.95 625.77,60.52 626.56,59.16 627.34,58.02 628.13,56.92 628.92,55.91 629.71,55.15 630.5,54.7 631.29,54.34 632.08,54.07 632.86,53.92 633.65,53.93 634.44,54.13 635.23,54.42 636.02,54.75 636.81,55.06 637.6,55.39 638.39,55.76 639.17,56.14 639.96,56.54 640.75,56.93 641.54,57.31 642.33,57.69 643.12,58.06 643.91,58.44 644.7,58.84 645.48,59.25 646.27,59.68 647.06,60.14 647.85,60.62 648.64,61.11 649.43,61.64 650.22,62.19 651.01,62.79 651.79,63.42 652.58,64.1 653.37,64.82 654.16,65.62 654.95,66.49 655.74,67.45 656.53,68.59 657.31,69.92 658.1,71.34 658.89,72.77 659.68,74.26 660.47,75.97 661.26,78.21 662.05,81.15 662.84,83.94 663.62,86.54 664.41,89.19 665.2,92.09 665.99,94.77 666.78,97.14 667.57,98.93 668.36,99.77 669.15,100.26 669.93,100.13 670.72,99.47 671.51,98.63 672.3,97.4" fill="none" stroke="#000" stroke-width="2.2" stroke-linejoin="round" stroke-linecap="round" />
<circle cx="629.1" cy="116" r="3.2" fill="none" stroke="#f2865c" stroke-width="1"/>
<path d="M629.1,124.7L633.5,129.1L629.1,133.5L624.7,129.1Z" fill="none" stroke="#40b58c" stroke-width="1"/>
<rect x="626.2" y="139.4" width="5.8" height="5.8" fill="none" stroke="#8494d0" stroke-width="1"/>
<text x="637" y="119.9" font-size="10.7" text-anchor="start" fill="#1a1a1a" >10 nm</text>
<text x="637" y="133" font-size="10.7" text-anchor="start" fill="#1a1a1a" >23 nm</text>
<text x="637" y="146.2" font-size="10.7" text-anchor="start" fill="#1a1a1a" >29 nm</text>
<line x1="621.1" y1="155.6" x2="636.6" y2="155.6" stroke="#000" stroke-width="2" />
<text x="641" y="159.5" font-size="10.7" text-anchor="start" fill="#1a1a1a" >DFT</text>
<defs><linearGradient id="rb2" x1="499.3" x2="581.3" y1="0" y2="0" gradientUnits="userSpaceOnUse"><stop offset="0.0" stop-color="#ffffff"/><stop offset="0.018" stop-color="#ffc4c4"/><stop offset="0.049" stop-color="#ff8888"/><stop offset="0.099" stop-color="#ff8282"/><stop offset="0.129" stop-color="#ffa080"/><stop offset="0.178" stop-color="#ffc078"/><stop offset="0.233" stop-color="#fff080"/><stop offset="0.284" stop-color="#f8f880"/><stop offset="0.318" stop-color="#d0f080"/><stop offset="0.355" stop-color="#a4e890"/><stop offset="0.398" stop-color="#88dc98"/><stop offset="0.446" stop-color="#80d8b0"/><stop offset="0.489" stop-color="#80e0cc"/><stop offset="0.505" stop-color="#88d8f4"/><stop offset="0.52" stop-color="#88d0f8"/><stop offset="0.535" stop-color="#88c0ec"/><stop offset="0.562" stop-color="#88a8e0"/><stop offset="0.605" stop-color="#8090d0"/><stop offset="0.641" stop-color="#8488c4"/><stop offset="0.678" stop-color="#9884d4"/><stop offset="0.727" stop-color="#a880e4"/><stop offset="0.788" stop-color="#b080f0"/><stop offset="0.946" stop-color="#b888f0"/><stop offset="0.977" stop-color="#d8c0f8"/><stop offset="1.0" stop-color="#ffffff"/></linearGradient></defs>
<rect x="499.3" y="216.4" width="82" height="134" fill="url(#rb2)"/>
<rect x="473.7" y="216.4" width="207.6" height="134" fill="none" stroke="#3a3a3a" stroke-width="1.1"/>
<line x1="482.19" y1="350.4" x2="482.19" y2="346.4" stroke="#333" stroke-width="0.65" />
<line x1="519.27" y1="350.4" x2="519.27" y2="346.4" stroke="#333" stroke-width="0.65" />
<line x1="571.54" y1="350.4" x2="571.54" y2="346.4" stroke="#333" stroke-width="0.65" />
<line x1="608.62" y1="350.4" x2="608.62" y2="346.4" stroke="#333" stroke-width="0.65" />
<line x1="637.38" y1="350.4" x2="637.38" y2="346.4" stroke="#333" stroke-width="0.65" />
<line x1="660.88" y1="350.4" x2="660.88" y2="346.4" stroke="#333" stroke-width="0.65" />
<line x1="486.4" y1="216.4" x2="486.4" y2="220.4" stroke="#333" stroke-width="0.65" />
<line x1="503.61" y1="216.4" x2="503.61" y2="220.4" stroke="#333" stroke-width="0.65" />
<line x1="523.48" y1="216.4" x2="523.48" y2="220.4" stroke="#333" stroke-width="0.65" />
<line x1="546.98" y1="216.4" x2="546.98" y2="220.4" stroke="#333" stroke-width="0.65" />
<line x1="575.75" y1="216.4" x2="575.75" y2="220.4" stroke="#333" stroke-width="0.65" />
<line x1="612.83" y1="216.4" x2="612.83" y2="220.4" stroke="#333" stroke-width="0.65" />
<line x1="665.09" y1="216.4" x2="665.09" y2="220.4" stroke="#333" stroke-width="0.65" />
<line x1="473.7" y1="335.6" x2="477.7" y2="335.6" stroke="#333" stroke-width="0.65" />
<line x1="681.3" y1="335.6" x2="677.3" y2="335.6" stroke="#333" stroke-width="0.65" />
<line x1="473.7" y1="305.8" x2="477.7" y2="305.8" stroke="#333" stroke-width="0.65" />
<line x1="681.3" y1="305.8" x2="677.3" y2="305.8" stroke="#333" stroke-width="0.65" />
<line x1="473.7" y1="276" x2="477.7" y2="276" stroke="#333" stroke-width="0.65" />
<line x1="681.3" y1="276" x2="677.3" y2="276" stroke="#333" stroke-width="0.65" />
<line x1="473.7" y1="246.2" x2="477.7" y2="246.2" stroke="#333" stroke-width="0.65" />
<line x1="681.3" y1="246.2" x2="677.3" y2="246.2" stroke="#333" stroke-width="0.65" />
<text x="467.4" y="340.24" font-size="11" text-anchor="end" fill="#1a1a1a" >0</text>
<text x="467.4" y="310.44" font-size="11" text-anchor="end" fill="#1a1a1a" >2</text>
<text x="467.4" y="280.64" font-size="11" text-anchor="end" fill="#1a1a1a" >4</text>
<text x="467.4" y="250.84" font-size="11" text-anchor="end" fill="#1a1a1a" >6</text>
<text x="467.4" y="221.04" font-size="11" text-anchor="end" fill="#1a1a1a" >8</text>
<text x="482.19" y="363.84" font-size="11" text-anchor="middle" fill="#1a1a1a" >1.5</text>
<text x="519.27" y="363.84" font-size="11" text-anchor="middle" fill="#1a1a1a" >2.0</text>
<text x="571.54" y="363.84" font-size="11" text-anchor="middle" fill="#1a1a1a" >3.0</text>
<text x="608.62" y="363.84" font-size="11" text-anchor="middle" fill="#1a1a1a" >4.0</text>
<text x="637.38" y="363.84" font-size="11" text-anchor="middle" fill="#1a1a1a" >5</text>
<text x="660.88" y="363.84" font-size="11" text-anchor="middle" fill="#1a1a1a" >6</text>
<text x="680.75" y="363.84" font-size="11" text-anchor="middle" fill="#1a1a1a" >7</text>
<text x="487.2" y="213.64" font-size="11" text-anchor="middle" fill="#1a1a1a" >800</text>
<text x="524.28" y="213.64" font-size="11" text-anchor="middle" fill="#1a1a1a" >600</text>
<text x="547.78" y="213.64" font-size="11" text-anchor="middle" fill="#1a1a1a" >500</text>
<text x="576.55" y="213.64" font-size="11" text-anchor="middle" fill="#1a1a1a" >400</text>
<text x="613.63" y="213.64" font-size="11" text-anchor="middle" fill="#1a1a1a" >300</text>
<text x="665.89" y="213.64" font-size="11" text-anchor="middle" fill="#1a1a1a" >200</text>
<text x="571" y="381.8" font-size="12" text-anchor="middle" fill="#1a1a1a" >energy (eV)</text>
<g transform="translate(451.3 292.7) rotate(-90)" fill="#1a1a1a">
<text x="0" y="0" font-size="14.5">ε</text>
<text x="5.85" y="3.5" font-size="11">2</text>
</g>
<use href="#mc" x="482.43" y="302.61"/>
<use href="#mc" x="483.22" y="303.03"/>
<use href="#mc" x="484.01" y="303.45"/>
<use href="#mc" x="484.8" y="303.87"/>
<use href="#mc" x="485.6" y="304.29"/>
<use href="#mc" x="486.4" y="304.7"/>
<use href="#mc" x="487.21" y="305.12"/>
<use href="#mc" x="488.02" y="305.54"/>
<use href="#mc" x="488.84" y="305.96"/>
<use href="#mc" x="489.66" y="306.37"/>
<use href="#mc" x="490.49" y="306.79"/>
<use href="#mc" x="491.33" y="307.2"/>
<use href="#mc" x="492.17" y="307.62"/>
<use href="#mc" x="493.01" y="308.03"/>
<use href="#mc" x="493.86" y="308.44"/>
<use href="#mc" x="494.72" y="308.85"/>
<use href="#mc" x="495.58" y="309.26"/>
<use href="#mc" x="496.45" y="309.67"/>
<use href="#mc" x="497.32" y="310.07"/>
<use href="#mc" x="498.2" y="310.47"/>
<use href="#mc" x="499.09" y="310.88"/>
<use href="#mc" x="499.98" y="311.27"/>
<use href="#mc" x="500.88" y="311.67"/>
<use href="#mc" x="501.78" y="312.06"/>
<use href="#mc" x="502.69" y="312.46"/>
<use href="#mc" x="503.61" y="312.84"/>
<use href="#mc" x="504.54" y="313.23"/>
<use href="#mc" x="505.47" y="313.61"/>
<use href="#mc" x="506.4" y="313.99"/>
<use href="#mc" x="507.35" y="314.36"/>
<use href="#mc" x="508.3" y="314.73"/>
<use href="#mc" x="509.26" y="315.1"/>
<use href="#mc" x="510.22" y="315.46"/>
<use href="#mc" x="511.2" y="315.82"/>
<use href="#mc" x="512.18" y="316.17"/>
<use href="#mc" x="513.16" y="316.52"/>
<use href="#mc" x="514.16" y="316.86"/>
<use href="#mc" x="515.16" y="317.2"/>
<use href="#mc" x="516.17" y="317.54"/>
<use href="#mc" x="517.19" y="317.87"/>
<use href="#mc" x="518.22" y="318.2"/>
<use href="#mc" x="519.26" y="318.53"/>
<use href="#mc" x="520.3" y="318.86"/>
<use href="#mc" x="521.35" y="319.19"/>
<use href="#mc" x="522.41" y="319.51"/>
<use href="#mc" x="523.48" y="319.83"/>
<use href="#mc" x="524.56" y="320.16"/>
<use href="#mc" x="525.65" y="320.48"/>
<use href="#mc" x="526.75" y="320.8"/>
<use href="#mc" x="527.85" y="321.13"/>
<use href="#mc" x="528.97" y="321.46"/>
<use href="#mc" x="530.09" y="321.78"/>
<use href="#mc" x="531.23" y="322.12"/>
<use href="#mc" x="532.37" y="322.45"/>
<use href="#mc" x="533.53" y="322.79"/>
<use href="#mc" x="534.7" y="323.13"/>
<use href="#mc" x="535.87" y="323.48"/>
<use href="#mc" x="537.06" y="323.84"/>
<use href="#mc" x="538.26" y="324.2"/>
<use href="#mc" x="539.47" y="324.57"/>
<use href="#mc" x="540.69" y="324.95"/>
<use href="#mc" x="541.93" y="325.33"/>
<use href="#mc" x="543.17" y="325.73"/>
<use href="#mc" x="544.43" y="326.14"/>
<use href="#mc" x="545.7" y="326.58"/>
<use href="#mc" x="546.98" y="327.05"/>
<use href="#mc" x="548.28" y="327.54"/>
<use href="#mc" x="549.59" y="328.04"/>
<use href="#mc" x="550.91" y="328.55"/>
<use href="#mc" x="552.24" y="329.05"/>
<use href="#mc" x="553.59" y="329.54"/>
<use href="#mc" x="554.96" y="330.02"/>
<use href="#mc" x="556.34" y="330.46"/>
<use href="#mc" x="557.73" y="330.87"/>
<use href="#mc" x="559.14" y="331.22"/>
<use href="#mc" x="560.56" y="331.51"/>
<use href="#mc" x="562" y="331.78"/>
<use href="#mc" x="563.46" y="332.05"/>
<use href="#mc" x="564.93" y="332.3"/>
<use href="#mc" x="566.42" y="332.55"/>
<use href="#mc" x="567.93" y="332.78"/>
<use href="#mc" x="569.46" y="333.01"/>
<use href="#mc" x="571" y="333.22"/>
<use href="#mc" x="572.56" y="333.42"/>
<use href="#mc" x="574.14" y="333.61"/>
<use href="#mc" x="575.75" y="333.79"/>
<use href="#mc" x="577.37" y="333.95"/>
<use href="#mc" x="579.01" y="334.11"/>
<use href="#mc" x="580.67" y="334.24"/>
<use href="#mc" x="582.36" y="334.37"/>
<use href="#mc" x="584.06" y="334.49"/>
<use href="#mc" x="585.79" y="334.6"/>
<use href="#mc" x="587.55" y="334.71"/>
<use href="#mc" x="589.33" y="334.81"/>
<use href="#mc" x="591.13" y="334.91"/>
<use href="#mc" x="592.96" y="335"/>
<use href="#mc" x="594.81" y="335.09"/>
<use href="#mc" x="596.69" y="335.17"/>
<use href="#mc" x="598.6" y="335.24"/>
<use href="#mc" x="600.54" y="335.32"/>
<use href="#mc" x="602.51" y="335.39"/>
<use href="#mc" x="604.51" y="335.46"/>
<use href="#mc" x="606.54" y="335.53"/>
<use href="#mc" x="608.6" y="335.6"/>
<use href="#mc" x="610.7" y="335.66"/>
<use href="#mc" x="612.83" y="335.69"/>
<use href="#mc" x="614.99" y="335.63"/>
<use href="#mc" x="617.2" y="334.66"/>
<use href="#mc" x="619.44" y="333.22"/>
<use href="#mc" x="621.72" y="332.04"/>
<use href="#mc" x="624.04" y="330.86"/>
<use href="#mc" x="626.41" y="329.23"/>
<use href="#mc" x="628.82" y="325.97"/>
<use href="#mc" x="631.27" y="320.31"/>
<use href="#mc" x="633.78" y="313.01"/>
<use href="#mc" x="636.33" y="305.26"/>
<use href="#mc" x="638.93" y="297.51"/>
<use href="#mc" x="641.59" y="287.49"/>
<use href="#mc" x="644.3" y="274.66"/>
<use href="#mc" x="647.08" y="261.73"/>
<use href="#mc" x="649.91" y="253.06"/>
<use href="#mc" x="652.81" y="246.66"/>
<use href="#mc" x="655.77" y="247.6"/>
<use href="#mc" x="658.8" y="249.18"/>
<use href="#mc" x="661.91" y="249.48"/>
<use href="#mc" x="665.09" y="252.62"/>
<use href="#mc" x="668.35" y="258.25"/>
<use href="#mc" x="671.7" y="265.92"/>
<use href="#md" x="482.43" y="305.9"/>
<use href="#md" x="483.22" y="306.12"/>
<use href="#md" x="484.01" y="306.35"/>
<use href="#md" x="484.8" y="306.57"/>
<use href="#md" x="485.6" y="306.8"/>
<use href="#md" x="486.4" y="307.03"/>
<use href="#md" x="487.21" y="307.26"/>
<use href="#md" x="488.02" y="307.5"/>
<use href="#md" x="488.84" y="307.73"/>
<use href="#md" x="489.66" y="307.97"/>
<use href="#md" x="490.49" y="308.2"/>
<use href="#md" x="491.33" y="308.44"/>
<use href="#md" x="492.17" y="308.68"/>
<use href="#md" x="493.01" y="308.93"/>
<use href="#md" x="493.86" y="309.17"/>
<use href="#md" x="494.72" y="309.41"/>
<use href="#md" x="495.58" y="309.66"/>
<use href="#md" x="496.45" y="309.91"/>
<use href="#md" x="497.32" y="310.16"/>
<use href="#md" x="498.2" y="310.41"/>
<use href="#md" x="499.09" y="310.66"/>
<use href="#md" x="499.98" y="310.92"/>
<use href="#md" x="500.88" y="311.18"/>
<use href="#md" x="501.78" y="311.44"/>
<use href="#md" x="502.69" y="311.7"/>
<use href="#md" x="503.61" y="311.96"/>
<use href="#md" x="504.54" y="312.22"/>
<use href="#md" x="505.47" y="312.49"/>
<use href="#md" x="506.4" y="312.76"/>
<use href="#md" x="507.35" y="313.03"/>
<use href="#md" x="508.3" y="313.3"/>
<use href="#md" x="509.26" y="313.57"/>
<use href="#md" x="510.22" y="313.85"/>
<use href="#md" x="511.2" y="314.14"/>
<use href="#md" x="512.18" y="314.44"/>
<use href="#md" x="513.16" y="314.74"/>
<use href="#md" x="514.16" y="315.05"/>
<use href="#md" x="515.16" y="315.37"/>
<use href="#md" x="516.17" y="315.69"/>
<use href="#md" x="517.19" y="316.02"/>
<use href="#md" x="518.22" y="316.35"/>
<use href="#md" x="519.26" y="316.69"/>
<use href="#md" x="520.3" y="317.03"/>
<use href="#md" x="521.35" y="317.37"/>
<use href="#md" x="522.41" y="317.71"/>
<use href="#md" x="523.48" y="318.06"/>
<use href="#md" x="524.56" y="318.41"/>
<use href="#md" x="525.65" y="318.76"/>
<use href="#md" x="526.75" y="319.1"/>
<use href="#md" x="527.85" y="319.45"/>
<use href="#md" x="528.97" y="319.79"/>
<use href="#md" x="530.09" y="320.13"/>
<use href="#md" x="531.23" y="320.47"/>
<use href="#md" x="532.37" y="320.8"/>
<use href="#md" x="533.53" y="321.13"/>
<use href="#md" x="534.7" y="321.44"/>
<use href="#md" x="535.87" y="321.75"/>
<use href="#md" x="537.06" y="322.05"/>
<use href="#md" x="538.26" y="322.34"/>
<use href="#md" x="539.47" y="322.62"/>
<use href="#md" x="540.69" y="322.88"/>
<use href="#md" x="541.93" y="323.13"/>
<use href="#md" x="543.17" y="323.36"/>
<use href="#md" x="544.43" y="323.57"/>
<use href="#md" x="545.7" y="323.76"/>
<use href="#md" x="546.98" y="323.94"/>
<use href="#md" x="548.28" y="324.1"/>
<use href="#md" x="549.59" y="324.26"/>
<use href="#md" x="550.91" y="324.4"/>
<use href="#md" x="552.24" y="324.55"/>
<use href="#md" x="553.59" y="324.69"/>
<use href="#md" x="554.96" y="324.84"/>
<use href="#md" x="556.34" y="325"/>
<use href="#md" x="557.73" y="325.18"/>
<use href="#md" x="559.14" y="325.37"/>
<use href="#md" x="560.56" y="325.59"/>
<use href="#md" x="562" y="325.85"/>
<use href="#md" x="563.46" y="326.16"/>
<use href="#md" x="564.93" y="326.49"/>
<use href="#md" x="566.42" y="326.86"/>
<use href="#md" x="567.93" y="327.24"/>
<use href="#md" x="569.46" y="327.64"/>
<use href="#md" x="571" y="328.04"/>
<use href="#md" x="572.56" y="328.43"/>
<use href="#md" x="574.14" y="328.81"/>
<use href="#md" x="575.75" y="329.16"/>
<use href="#md" x="577.37" y="329.47"/>
<use href="#md" x="579.01" y="329.74"/>
<use href="#md" x="580.67" y="329.94"/>
<use href="#md" x="582.36" y="330.07"/>
<use href="#md" x="584.06" y="330.2"/>
<use href="#md" x="585.79" y="330.32"/>
<use href="#md" x="587.55" y="330.44"/>
<use href="#md" x="589.33" y="330.55"/>
<use href="#md" x="591.13" y="330.65"/>
<use href="#md" x="592.96" y="330.74"/>
<use href="#md" x="594.81" y="330.83"/>
<use href="#md" x="596.69" y="330.9"/>
<use href="#md" x="598.6" y="330.95"/>
<use href="#md" x="600.54" y="330.98"/>
<use href="#md" x="602.51" y="331"/>
<use href="#md" x="604.51" y="330.99"/>
<use href="#md" x="606.54" y="330.94"/>
<use href="#md" x="608.6" y="330.86"/>
<use href="#md" x="610.7" y="330.75"/>
<use href="#md" x="612.83" y="330.6"/>
<use href="#md" x="614.99" y="330.36"/>
<use href="#md" x="617.2" y="329.72"/>
<use href="#md" x="619.44" y="328.76"/>
<use href="#md" x="621.72" y="327.46"/>
<use href="#md" x="624.04" y="325.46"/>
<use href="#md" x="626.41" y="322.8"/>
<use href="#md" x="628.82" y="319.1"/>
<use href="#md" x="631.27" y="314.83"/>
<use href="#md" x="633.78" y="309.59"/>
<use href="#md" x="636.33" y="302.61"/>
<use href="#md" x="638.93" y="294.45"/>
<use href="#md" x="641.59" y="285.96"/>
<use href="#md" x="644.3" y="277.23"/>
<use href="#md" x="647.08" y="260.71"/>
<use href="#md" x="649.91" y="245.29"/>
<use href="#md" x="652.81" y="237.29"/>
<use href="#md" x="655.77" y="238.81"/>
<use href="#md" x="658.8" y="245.98"/>
<use href="#md" x="661.91" y="255.43"/>
<use href="#md" x="665.09" y="264.97"/>
<use href="#md" x="668.35" y="274.72"/>
<use href="#md" x="671.7" y="284.6"/>
<use href="#mp" x="482.43" y="303.6"/>
<use href="#mp" x="483.22" y="303.86"/>
<use href="#mp" x="484.01" y="304.12"/>
<use href="#mp" x="484.8" y="304.38"/>
<use href="#mp" x="485.6" y="304.64"/>
<use href="#mp" x="486.4" y="304.9"/>
<use href="#mp" x="487.21" y="305.17"/>
<use href="#mp" x="488.02" y="305.43"/>
<use href="#mp" x="488.84" y="305.7"/>
<use href="#mp" x="489.66" y="305.96"/>
<use href="#mp" x="490.49" y="306.23"/>
<use href="#mp" x="491.33" y="306.5"/>
<use href="#mp" x="492.17" y="306.77"/>
<use href="#mp" x="493.01" y="307.04"/>
<use href="#mp" x="493.86" y="307.31"/>
<use href="#mp" x="494.72" y="307.58"/>
<use href="#mp" x="495.58" y="307.85"/>
<use href="#mp" x="496.45" y="308.13"/>
<use href="#mp" x="497.32" y="308.4"/>
<use href="#mp" x="498.2" y="308.68"/>
<use href="#mp" x="499.09" y="308.96"/>
<use href="#mp" x="499.98" y="309.24"/>
<use href="#mp" x="500.88" y="309.51"/>
<use href="#mp" x="501.78" y="309.8"/>
<use href="#mp" x="502.69" y="310.08"/>
<use href="#mp" x="503.61" y="310.36"/>
<use href="#mp" x="504.54" y="310.64"/>
<use href="#mp" x="505.47" y="310.93"/>
<use href="#mp" x="506.4" y="311.21"/>
<use href="#mp" x="507.35" y="311.5"/>
<use href="#mp" x="508.3" y="311.79"/>
<use href="#mp" x="509.26" y="312.08"/>
<use href="#mp" x="510.22" y="312.37"/>
<use href="#mp" x="511.2" y="312.67"/>
<use href="#mp" x="512.18" y="312.97"/>
<use href="#mp" x="513.16" y="313.28"/>
<use href="#mp" x="514.16" y="313.6"/>
<use href="#mp" x="515.16" y="313.92"/>
<use href="#mp" x="516.17" y="314.24"/>
<use href="#mp" x="517.19" y="314.56"/>
<use href="#mp" x="518.22" y="314.89"/>
<use href="#mp" x="519.26" y="315.23"/>
<use href="#mp" x="520.3" y="315.56"/>
<use href="#mp" x="521.35" y="315.9"/>
<use href="#mp" x="522.41" y="316.23"/>
<use href="#mp" x="523.48" y="316.57"/>
<use href="#mp" x="524.56" y="316.91"/>
<use href="#mp" x="525.65" y="317.25"/>
<use href="#mp" x="526.75" y="317.59"/>
<use href="#mp" x="527.85" y="317.93"/>
<use href="#mp" x="528.97" y="318.26"/>
<use href="#mp" x="530.09" y="318.59"/>
<use href="#mp" x="531.23" y="318.92"/>
<use href="#mp" x="532.37" y="319.25"/>
<use href="#mp" x="533.53" y="319.57"/>
<use href="#mp" x="534.7" y="319.88"/>
<use href="#mp" x="535.87" y="320.19"/>
<use href="#mp" x="537.06" y="320.49"/>
<use href="#mp" x="538.26" y="320.78"/>
<use href="#mp" x="539.47" y="321.06"/>
<use href="#mp" x="540.69" y="321.34"/>
<use href="#mp" x="541.93" y="321.6"/>
<use href="#mp" x="543.17" y="321.84"/>
<use href="#mp" x="544.43" y="322.08"/>
<use href="#mp" x="545.7" y="322.29"/>
<use href="#mp" x="546.98" y="322.49"/>
<use href="#mp" x="548.28" y="322.68"/>
<use href="#mp" x="549.59" y="322.86"/>
<use href="#mp" x="550.91" y="323.03"/>
<use href="#mp" x="552.24" y="323.2"/>
<use href="#mp" x="553.59" y="323.37"/>
<use href="#mp" x="554.96" y="323.54"/>
<use href="#mp" x="556.34" y="323.73"/>
<use href="#mp" x="557.73" y="323.93"/>
<use href="#mp" x="559.14" y="324.15"/>
<use href="#mp" x="560.56" y="324.4"/>
<use href="#mp" x="562" y="324.7"/>
<use href="#mp" x="563.46" y="325.04"/>
<use href="#mp" x="564.93" y="325.41"/>
<use href="#mp" x="566.42" y="325.81"/>
<use href="#mp" x="567.93" y="326.24"/>
<use href="#mp" x="569.46" y="326.67"/>
<use href="#mp" x="571" y="327.11"/>
<use href="#mp" x="572.56" y="327.55"/>
<use href="#mp" x="574.14" y="327.97"/>
<use href="#mp" x="575.75" y="328.35"/>
<use href="#mp" x="577.37" y="328.7"/>
<use href="#mp" x="579.01" y="329"/>
<use href="#mp" x="580.67" y="329.23"/>
<use href="#mp" x="582.36" y="329.39"/>
<use href="#mp" x="584.06" y="329.54"/>
<use href="#mp" x="585.79" y="329.68"/>
<use href="#mp" x="587.55" y="329.82"/>
<use href="#mp" x="589.33" y="329.95"/>
<use href="#mp" x="591.13" y="330.08"/>
<use href="#mp" x="592.96" y="330.19"/>
<use href="#mp" x="594.81" y="330.29"/>
<use href="#mp" x="596.69" y="330.37"/>
<use href="#mp" x="598.6" y="330.44"/>
<use href="#mp" x="600.54" y="330.48"/>
<use href="#mp" x="602.51" y="330.5"/>
<use href="#mp" x="604.51" y="330.46"/>
<use href="#mp" x="606.54" y="330.31"/>
<use href="#mp" x="608.6" y="330.06"/>
<use href="#mp" x="610.7" y="329.73"/>
<use href="#mp" x="612.83" y="329.32"/>
<use href="#mp" x="614.99" y="328.56"/>
<use href="#mp" x="617.2" y="327.44"/>
<use href="#mp" x="619.44" y="325.56"/>
<use href="#mp" x="621.72" y="322.93"/>
<use href="#mp" x="624.04" y="320.09"/>
<use href="#mp" x="626.41" y="316.79"/>
<use href="#mp" x="628.82" y="312.69"/>
<use href="#mp" x="631.27" y="307.65"/>
<use href="#mp" x="633.78" y="301.46"/>
<use href="#mp" x="636.33" y="294.01"/>
<use href="#mp" x="638.93" y="286.04"/>
<use href="#mp" x="641.59" y="277.37"/>
<use href="#mp" x="644.3" y="268.35"/>
<use href="#mp" x="647.08" y="256.96"/>
<use href="#mp" x="649.91" y="242.39"/>
<use href="#mp" x="652.81" y="231.47"/>
<use href="#mp" x="655.77" y="226.1"/>
<use href="#mp" x="658.8" y="225.51"/>
<use href="#mp" x="661.91" y="244.49"/>
<use href="#mp" x="665.09" y="258.71"/>
<use href="#mp" x="668.35" y="269.74"/>
<use href="#mp" x="671.7" y="278.43"/>
<polyline points="482.8,312.3 483.74,312.86 484.69,313.41 485.63,313.95 486.57,314.48 487.52,314.98 488.46,315.47 489.41,315.92 490.35,316.34 491.29,316.72 492.24,317.07 493.18,317.41 494.12,317.73 495.07,318.04 496.01,318.34 496.96,318.63 497.9,318.91 498.84,319.18 499.79,319.44 500.73,319.69 501.67,319.94 502.62,320.17 503.56,320.41 504.51,320.64 505.45,320.87 506.39,321.09 507.34,321.31 508.28,321.53 509.22,321.75 510.17,321.98 511.11,322.21 512.06,322.44 513,322.68 513.94,322.91 514.89,323.15 515.83,323.38 516.77,323.6 517.72,323.82 518.66,324.03 519.61,324.23 520.55,324.42 521.49,324.59 522.44,324.75 523.38,324.88 524.32,325.01 525.27,325.1 526.21,325.18 527.15,325.24 528.1,325.29 529.04,325.35 529.99,325.4 530.93,325.44 531.87,325.48 532.82,325.52 533.76,325.55 534.7,325.57 535.65,325.59 536.59,325.6 537.54,325.57 538.48,325.4 539.42,325.1 540.37,324.7 541.31,324.23 542.25,323.72 543.2,323.21 544.14,322.73 545.09,322.18 546.03,321.53 546.97,320.83 547.92,320.12 548.86,319.44 549.8,318.82 550.75,318.31 551.69,317.9 552.64,317.48 553.58,317.1 554.52,316.78 555.47,316.57 556.41,316.5 557.35,316.56 558.3,316.71 559.24,316.91 560.18,317.15 561.13,317.59 562.07,318.22 563.02,318.97 563.96,319.74 564.9,320.5 565.85,321.42 566.79,322.41 567.73,323.37 568.68,324.21 569.62,324.83 570.57,325.2 571.51,325.51 572.45,325.79 573.4,326.04 574.34,326.26 575.28,326.46 576.23,326.65 577.17,326.81 578.12,326.96 579.06,327.1 580,327.22 580.95,327.34 581.89,327.46 582.83,327.57 583.78,327.68 584.72,327.78 585.67,327.88 586.61,327.98 587.55,328.07 588.5,328.15 589.44,328.23 590.38,328.31 591.33,328.37 592.27,328.44 593.22,328.49 594.16,328.54 595.1,328.58 596.05,328.61 596.99,328.64 597.93,328.67 598.88,328.7 599.82,328.73 600.76,328.76 601.71,328.78 602.65,328.81 603.6,328.83 604.54,328.85 605.48,328.86 606.43,328.88 607.37,328.89 608.31,328.89 609.26,328.9 610.2,328.9 611.15,328.88 612.09,328.82 613.03,328.74 613.98,328.64 614.92,328.5 615.86,328.34 616.81,328.16 617.75,327.96 618.7,327.74 619.64,327.5 620.58,327.2 621.53,326.72 622.47,326.05 623.41,325.22 624.36,324.23 625.3,322.8 626.25,320.78 627.19,318.35 628.13,315.05 629.08,311.01 630.02,307.02 630.96,303.21 631.91,299.41 632.85,295.87 633.79,292.63 634.74,289.62 635.68,287.04 636.63,284.78 637.57,282.74 638.51,280.9 639.46,279.23 640.4,277.73 641.34,276.36 642.29,275.08 643.23,273.85 644.18,272.66 645.12,271.6 646.06,270.57 647.01,269.48 647.95,268.22 648.89,266.74 649.84,265.05 650.78,263.17 651.73,261.12 652.67,258.92 653.61,256.41 654.56,253.5 655.5,250.51 656.44,247.61 657.39,244.52 658.33,241.68 659.28,239.57 660.22,237.81 661.16,236.82 662.11,237.21 663.05,238.5 663.99,240.36 664.94,244.29 665.88,249.84 666.83,255.94 667.77,263.29 668.71,270.13 669.66,276.32 670.6,282.1" fill="none" stroke="#000" stroke-width="2.2" stroke-linejoin="round" stroke-linecap="round" />
<circle cx="594" cy="237.6" r="3.2" fill="none" stroke="#f2865c" stroke-width="1"/>
<path d="M594,246.4L598.4,250.8L594,255.2L589.6,250.8Z" fill="none" stroke="#40b58c" stroke-width="1"/>
<rect x="591.1" y="261.2" width="5.8" height="5.8" fill="none" stroke="#8494d0" stroke-width="1"/>
<text x="602" y="241.5" font-size="10.7" text-anchor="start" fill="#1a1a1a" >10 nm</text>
<text x="602" y="254.7" font-size="10.7" text-anchor="start" fill="#1a1a1a" >23 nm</text>
<text x="602" y="268" font-size="10.7" text-anchor="start" fill="#1a1a1a" >29 nm</text>
<line x1="586" y1="277.6" x2="601.5" y2="277.6" stroke="#000" stroke-width="2" />
<text x="606" y="281.5" font-size="10.7" text-anchor="start" fill="#1a1a1a" >DFT</text>
<text x="-0.5" y="11" font-size="15" text-anchor="start" fill="#1a1a1a" letter-spacing="0.8">(a)</text>
<text x="-0.5" y="228.6" font-size="15" text-anchor="start" fill="#1a1a1a" letter-spacing="0.8">(b)</text>
<text x="245.8" y="11.3" font-size="15" text-anchor="start" fill="#1a1a1a" letter-spacing="0.8">(c)</text>
<text x="435.9" y="10.9" font-size="15" text-anchor="start" fill="#1a1a1a" letter-spacing="0.8">(d)</text>
<text x="245.3" y="210.9" font-size="15" text-anchor="start" fill="#1a1a1a" letter-spacing="0.8">(e)</text>
<text x="436.1" y="210.6" font-size="15" text-anchor="start" fill="#1a1a1a" letter-spacing="0.8">(f)</text>
</svg>
</body></html>
